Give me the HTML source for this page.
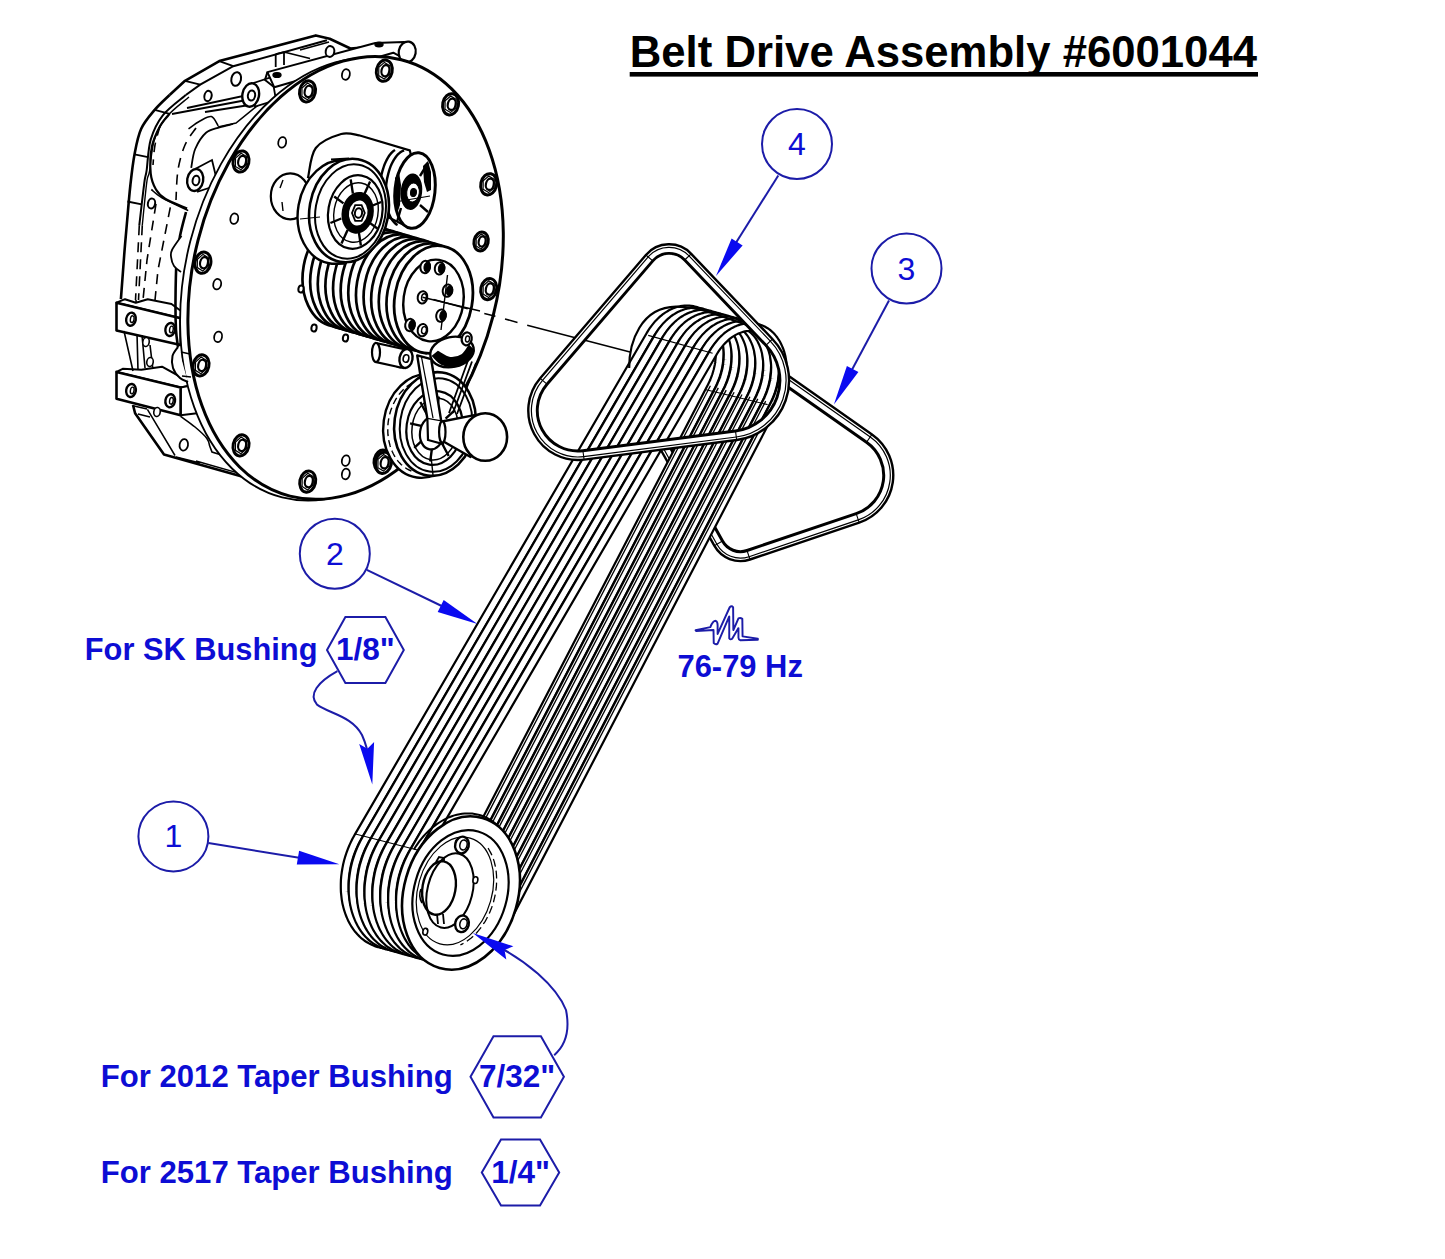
<!DOCTYPE html>
<html><head><meta charset="utf-8"><title>Belt Drive Assembly</title>
<style>html,body{margin:0;padding:0;background:#fff;} svg{display:block;} text{font-family:"Liberation Sans",sans-serif;}</style>
</head><body>
<svg width="1445" height="1259" viewBox="0 0 1445 1259" font-family="Liberation Sans, sans-serif">
<rect width="1445" height="1259" fill="#fff"/>
<path d="M415.0,50.0 L395.0,45.0 L350.4,48.5 L329.7,38.8 L315.8,35.4 L219.3,61.1 L185.0,80.8 L169.6,95.0" fill="none" stroke="#000" stroke-width="2.6" stroke-linejoin="round"/>
<path d="M169.6,95.0 C167.1,97.5 159.4,104.3 154.7,109.9 C150.0,115.5 144.6,121.4 141.2,128.8 C137.8,136.2 136.3,145.0 134.5,154.4 C132.7,163.8 131.6,174.1 130.4,185.0 C129.2,195.9 128.2,208.3 127.2,220.0 C126.2,231.7 125.2,241.8 124.2,255.0 C123.2,268.2 121.5,291.8 120.9,299.2" fill="none" stroke="#000" stroke-width="2.6"/>
<path d="M326.9,40.2 L233.3,66.2 L200.2,84.6 L185.8,95.0" fill="none" stroke="#000" stroke-width="2.0"/>
<path d="M185.8,95.0 C182.0,98.4 168.7,107.9 162.8,115.3 C157.0,122.7 153.4,130.4 150.7,139.6 C148.0,148.8 147.6,163.9 146.6,170.6 C145.6,177.3 145.5,174.4 144.7,180.0 C143.9,185.6 142.6,196.8 141.7,204.4 C140.8,212.0 139.7,221.8 139.3,225.3" fill="none" stroke="#000" stroke-width="2.0"/>
<path d="M189.0,97.0 C185.2,100.4 171.8,110.2 166.0,117.5 C160.2,124.8 156.7,132.1 154.0,141.0 C151.3,149.9 150.8,164.5 149.6,171.0 C148.4,177.5 148.0,174.3 147.1,180.0 C146.2,185.7 145.1,197.4 144.3,205.0 C143.5,212.6 142.6,221.9 142.3,225.3" fill="none" stroke="#000" stroke-width="1.4"/>
<path d="M219.3,61.1 L233.3,66.2" stroke="#000" stroke-width="1.8"/>
<path d="M185.0,80.8 L200.2,84.6" stroke="#000" stroke-width="1.8"/>
<path d="M154.7,109.9 L169.6,113.9" stroke="#000" stroke-width="1.8"/>
<path d="M134.5,154.4 L148.0,157.1" stroke="#000" stroke-width="1.8"/>
<path d="M127.4,201.5 L141.7,204.4" stroke="#000" stroke-width="1.8"/>
<path d="M133.0,405.0 L135.1,413.2 L164.0,454.5 L244.6,477.2 L285.0,492.0" fill="none" stroke="#000" stroke-width="2.6" stroke-linejoin="round"/>
<path d="M147.4,409.4 L175,455.5 M176,457 L200,463 M196,461 L243,474.4" fill="none" stroke="#000" stroke-width="1.5"/>
<path d="M134,406 L147,409 M138,414 L150,417" fill="none" stroke="#000" stroke-width="1.4"/>
<path d="M180.6,416.3 C183.0,418.1 190.6,423.3 195.0,427.0 C199.4,430.7 204.5,435.2 206.9,438.4 C209.3,441.6 209.2,444.7 209.7,446.0 L212,452 L225,456" fill="none" stroke="#000" stroke-width="1.6"/>
<path d="M136,300 L137,330 M147,302 L146,330 M150,345 L153,370 M137,333 L138,371" stroke="#000" stroke-width="1.6" fill="none"/>
<g fill="none" stroke="#000" stroke-width="1.6" stroke-dasharray="10 7">
<path d="M139.3,225.3 L135.5,300 M142.3,225.3 L138.5,300"/>
<path d="M156,203.8 L147,260 L143,300"/>
<path d="M170.3,207.4 L158,270 L155,300"/>
<path d="M196.0,128.0 C194.2,130.8 188.0,138.0 185.0,145.0 C182.0,152.0 179.5,160.8 178.0,170.0 C176.5,179.2 176.3,195.0 176.0,200.0"/>
<path d="M160.0,126.0 C159.2,129.2 156.2,138.5 155.0,145.0 C153.8,151.5 153.3,161.7 153.0,165.0"/>
</g>
<path d="M169.6,113.9 C168.0,115.9 163.0,120.6 160.1,126.0 C157.2,131.4 153.6,138.4 152.0,146.3 C150.4,154.2 150.0,166.1 150.7,173.3 C151.4,180.5 153.5,185.2 156.0,189.5 C158.5,193.8 160.3,195.8 165.5,199.0 C170.7,202.2 183.5,206.8 187.1,208.4" fill="none" stroke="#000" stroke-width="2.2"/>
<path d="M151.3,189.5 C153.1,190.9 155.8,194.4 162.0,197.9 C168.2,201.4 183.8,208.5 188.2,210.6" fill="none" stroke="#000" stroke-width="1.6"/>
<path d="M191.2,167.9 C191.9,164.8 192.7,154.8 195.2,149.0 C197.7,143.2 201.9,136.4 206.0,132.8 C210.1,129.2 215.0,128.9 219.5,127.4 C224.0,125.9 230.8,124.6 233.0,124.0" fill="none" stroke="#000" stroke-width="1.8"/>
<path d="M188.5,128.8 C190.4,127.5 196.2,123.0 200.0,121.0 C203.8,119.0 208.4,115.8 211.4,116.6 C214.4,117.4 217.1,124.4 218.2,126.0" fill="none" stroke="#000" stroke-width="1.6"/>
<path d="M172,114 L252,99 M187,108 L262,92 M205,112 L256,104" stroke="#000" stroke-width="1.8" fill="none"/>
<path d="M218,127 L236,123 L262,102" stroke="#000" stroke-width="1.6" fill="none"/>
<path d="M252,83.5 L272,77 L276,100 L255,106.5 Z" fill="#fff" stroke="#000" stroke-width="1.8"/>
<ellipse cx="250.7" cy="95.0" rx="8.3" ry="11.8" transform="rotate(10 250.7 95)" fill="#fff" stroke="#000" stroke-width="2.4"/>
<ellipse cx="251.5" cy="95.5" rx="3.6" ry="5.0" transform="rotate(10 251.5 95.5)" fill="#fff" stroke="#000" stroke-width="2.0"/>
<path d="M196,168.5 L212,160 L218,185 L198,191.5 Z" fill="#fff" stroke="#000" stroke-width="1.8"/>
<ellipse cx="195.2" cy="180.0" rx="8.0" ry="11.0" transform="rotate(10 195.2 180)" fill="#fff" stroke="#000" stroke-width="2.4"/>
<ellipse cx="196.0" cy="180.5" rx="3.4" ry="4.8" transform="rotate(10 196 180.5)" fill="#fff" stroke="#000" stroke-width="2.0"/>
<ellipse cx="236.2" cy="79.0" rx="4.8" ry="6.9" transform="rotate(12 236.2 79)" fill="#fff" stroke="#000" stroke-width="2.0"/>
<ellipse cx="208.0" cy="96.0" rx="3.6" ry="5.2" transform="rotate(12 208 96)" fill="#fff" stroke="#000" stroke-width="2.0"/>
<ellipse cx="151.5" cy="203.5" rx="3.6" ry="5.0" transform="rotate(12 151.5 203.5)" fill="#fff" stroke="#000" stroke-width="2.0"/>
<path d="M267.4,72.1 L375.3,43 L404,42 L410,62 L393.3,52.7 L274.3,87.3 Z" fill="#fff" stroke="#000" stroke-width="2.0" stroke-linejoin="round"/>
<path d="M267.4,72.1 L265,80 L274.3,87.3" stroke="#000" stroke-width="2.0" fill="none"/>
<path d="M300,50 L329,42" stroke="#000" stroke-width="1.6" fill="none"/>
<ellipse cx="407.2" cy="52.0" rx="8.5" ry="10.5" transform="rotate(10 407.2 52)" fill="#fff" stroke="#000" stroke-width="2.2"/>
<path d="M275.7,54 L275.7,67 M284,52 L284,65 M284,52 L310,58.5 M275.7,54 L284,52" stroke="#000" stroke-width="1.8" fill="none"/>
<ellipse cx="330.0" cy="51.5" rx="4.3" ry="5.4" transform="rotate(10 330 51.5)" fill="#fff" stroke="#000" stroke-width="2.0"/>
<ellipse cx="277.0" cy="75.0" rx="4.0" ry="2.4" fill="#000" stroke="#000" stroke-width="1.4"/>
<ellipse cx="379.0" cy="44.5" rx="4.0" ry="2.2" fill="#000" stroke="#000" stroke-width="1.4"/>
<path d="M116.5,302.7 L125.0,299.2 L135.8,302.8 L147.7,299.2 L171.5,304.0 L181.0,311.0 L180.6,318.2 Z" fill="#fff" stroke="#000" stroke-width="2.0" stroke-linejoin="round"/>
<path d="M180.6,318.2 L188.0,313.0 L188.0,340.0 L180.6,345.0 Z" fill="#fff" stroke="#000" stroke-width="2.0" stroke-linejoin="round"/>
<path d="M116.5,302.7 L180.6,318.2 L180.6,345.0 L116.5,330.6 Z" fill="#fff" stroke="#000" stroke-width="2.6" stroke-linejoin="round"/>
<path d="M116.5,371.9 L122.7,368.8 L141.3,369.8 L162.0,366.7 L182.6,378.0 L197.1,384.3 L180.6,387.4 Z" fill="#fff" stroke="#000" stroke-width="2.0" stroke-linejoin="round"/>
<path d="M180.6,387.4 L197.1,384.3 L197.1,413.2 L180.6,415.3 Z" fill="#fff" stroke="#000" stroke-width="2.0" stroke-linejoin="round"/>
<path d="M116.5,371.9 L180.6,387.4 L180.6,415.3 L116.5,398.7 Z" fill="#fff" stroke="#000" stroke-width="2.6" stroke-linejoin="round"/>
<ellipse cx="131.0" cy="319.2" rx="4.8" ry="6.6" transform="rotate(10 131 319.2)" fill="#fff" stroke="#000" stroke-width="2.4"/>
<ellipse cx="132.2" cy="319.2" rx="1.8" ry="3.4" transform="rotate(10 132.2 319.2)" fill="#fff" stroke="#000" stroke-width="1.4"/>
<ellipse cx="170.2" cy="329.5" rx="4.8" ry="6.6" transform="rotate(10 170.2 329.5)" fill="#fff" stroke="#000" stroke-width="2.4"/>
<ellipse cx="171.4" cy="329.5" rx="1.8" ry="3.4" transform="rotate(10 171.39999999999998 329.5)" fill="#fff" stroke="#000" stroke-width="1.4"/>
<ellipse cx="131.0" cy="390.5" rx="4.8" ry="6.6" transform="rotate(10 131 390.5)" fill="#fff" stroke="#000" stroke-width="2.4"/>
<ellipse cx="132.2" cy="390.5" rx="1.8" ry="3.4" transform="rotate(10 132.2 390.5)" fill="#fff" stroke="#000" stroke-width="1.4"/>
<ellipse cx="170.2" cy="400.8" rx="4.8" ry="6.6" transform="rotate(10 170.2 400.8)" fill="#fff" stroke="#000" stroke-width="2.4"/>
<ellipse cx="171.4" cy="400.8" rx="1.8" ry="3.4" transform="rotate(10 171.39999999999998 400.8)" fill="#fff" stroke="#000" stroke-width="1.4"/>
<path d="M124,331 L133,371 M142,335 L145,368" stroke="#000" stroke-width="1.6" fill="none"/>
<ellipse cx="146.0" cy="342.0" rx="3.2" ry="4.5" transform="rotate(10 146 342)" fill="#fff" stroke="#000" stroke-width="1.6"/>
<ellipse cx="150.0" cy="362.0" rx="3.2" ry="4.5" transform="rotate(10 150 362)" fill="#fff" stroke="#000" stroke-width="1.6"/>
<ellipse cx="157.0" cy="412.0" rx="3.2" ry="4.5" transform="rotate(10 157 412)" fill="#fff" stroke="#000" stroke-width="1.6"/>
<ellipse cx="183.8" cy="444.9" rx="4.2" ry="5.8" transform="rotate(10 183.8 444.9)" fill="#fff" stroke="#000" stroke-width="1.8"/>
<ellipse cx="337.8" cy="279.2" rx="152.3" ry="225.2" transform="rotate(14.3 337.8 279.2)" fill="#fff" stroke="#000" stroke-width="1.8"/>
<ellipse cx="345.6" cy="277.9" rx="152.3" ry="225.2" transform="rotate(14.3 345.6 277.9)" fill="#fff" stroke="#000" stroke-width="3.0"/>
<path d="M186.0,212.0 C185.0,216.0 181.6,227.7 180.0,236.0 C178.4,244.3 177.2,251.3 176.5,262.0 C175.8,272.7 175.6,288.7 175.5,300.0 C175.4,311.3 175.6,322.2 176.0,330.0 C176.4,337.8 177.7,344.2 178.0,347.0" fill="none" stroke="#000" stroke-width="2.6"/>
<path d="M178.0,347.0 C177.1,348.5 173.3,352.5 172.5,356.0 C171.7,359.5 171.8,364.3 173.0,368.0 C174.2,371.7 177.5,375.7 180.0,378.0 C182.5,380.3 186.7,381.3 188.0,382.0" fill="#fff" stroke="#000" stroke-width="2.0"/>
<path d="M181,352 L190,354 M182,376 L191,377" stroke="#000" stroke-width="1.4"/>
<path d="M181.5,236.0 C179.9,238.3 173.7,246.5 172.0,250.0 C170.3,253.5 170.8,254.5 171.1,257.2 C171.4,259.9 172.3,263.5 174.0,266.0 C175.7,268.5 179.8,271.0 181.0,272.0" fill="#fff" stroke="#000" stroke-width="1.8"/>
<ellipse cx="307.5" cy="91.4" rx="7.9" ry="10.7" transform="rotate(12 307.5 91.4)" fill="#fff" stroke="#000" stroke-width="3.0"/>
<path d="M313.0,94.8 L307.4,99.7 L301.9,96.3 L302.0,88.0 L307.6,83.1 L313.1,86.5 Z" fill="none" stroke="#000" stroke-width="1.2"/>
<ellipse cx="308.6" cy="91.4" rx="3.9" ry="5.7" transform="rotate(12 308.604 91.4)" fill="#fff" stroke="#000" stroke-width="2.2"/>
<ellipse cx="384.3" cy="70.7" rx="7.9" ry="10.7" transform="rotate(12 384.3 70.7)" fill="#fff" stroke="#000" stroke-width="3.0"/>
<path d="M389.8,74.1 L384.2,79.0 L378.7,75.6 L378.8,67.3 L384.4,62.4 L389.9,65.8 Z" fill="none" stroke="#000" stroke-width="1.2"/>
<ellipse cx="385.4" cy="70.7" rx="3.9" ry="5.7" transform="rotate(12 385.404 70.7)" fill="#fff" stroke="#000" stroke-width="2.2"/>
<ellipse cx="450.6" cy="104.3" rx="7.9" ry="10.7" transform="rotate(12 450.6 104.3)" fill="#fff" stroke="#000" stroke-width="3.0"/>
<path d="M456.1,107.7 L450.5,112.6 L445.0,109.2 L445.1,100.9 L450.7,96.0 L456.2,99.4 Z" fill="none" stroke="#000" stroke-width="1.2"/>
<ellipse cx="451.7" cy="104.3" rx="3.9" ry="5.7" transform="rotate(12 451.704 104.3)" fill="#fff" stroke="#000" stroke-width="2.2"/>
<ellipse cx="488.7" cy="184.3" rx="7.9" ry="10.7" transform="rotate(12 488.7 184.3)" fill="#fff" stroke="#000" stroke-width="3.0"/>
<path d="M494.2,187.7 L488.6,192.6 L483.1,189.2 L483.2,180.9 L488.8,176.0 L494.3,179.4 Z" fill="none" stroke="#000" stroke-width="1.2"/>
<ellipse cx="489.8" cy="184.3" rx="3.9" ry="5.7" transform="rotate(12 489.804 184.3)" fill="#fff" stroke="#000" stroke-width="2.2"/>
<ellipse cx="488.7" cy="289.1" rx="7.9" ry="10.7" transform="rotate(12 488.7 289.1)" fill="#fff" stroke="#000" stroke-width="3.0"/>
<path d="M494.2,292.5 L488.6,297.4 L483.1,294.0 L483.2,285.7 L488.8,280.8 L494.3,284.2 Z" fill="none" stroke="#000" stroke-width="1.2"/>
<ellipse cx="489.8" cy="289.1" rx="3.9" ry="5.7" transform="rotate(12 489.804 289.1)" fill="#fff" stroke="#000" stroke-width="2.2"/>
<ellipse cx="241.0" cy="161.5" rx="7.9" ry="10.7" transform="rotate(12 241 161.5)" fill="#fff" stroke="#000" stroke-width="3.0"/>
<path d="M246.5,164.9 L240.9,169.8 L235.4,166.4 L235.5,158.1 L241.1,153.2 L246.6,156.6 Z" fill="none" stroke="#000" stroke-width="1.2"/>
<ellipse cx="242.1" cy="161.5" rx="3.9" ry="5.7" transform="rotate(12 242.104 161.5)" fill="#fff" stroke="#000" stroke-width="2.2"/>
<ellipse cx="202.9" cy="262.7" rx="7.9" ry="10.7" transform="rotate(12 202.9 262.7)" fill="#fff" stroke="#000" stroke-width="3.0"/>
<path d="M208.4,266.1 L202.8,271.0 L197.3,267.6 L197.4,259.3 L203.0,254.4 L208.5,257.8 Z" fill="none" stroke="#000" stroke-width="1.2"/>
<ellipse cx="204.0" cy="262.7" rx="3.9" ry="5.7" transform="rotate(12 204.00400000000002 262.7)" fill="#fff" stroke="#000" stroke-width="2.2"/>
<ellipse cx="201.0" cy="365.4" rx="7.9" ry="10.7" transform="rotate(12 201 365.4)" fill="#fff" stroke="#000" stroke-width="3.0"/>
<path d="M206.5,368.8 L200.9,373.7 L195.4,370.3 L195.5,362.0 L201.1,357.1 L206.6,360.5 Z" fill="none" stroke="#000" stroke-width="1.2"/>
<ellipse cx="202.1" cy="365.4" rx="3.9" ry="5.7" transform="rotate(12 202.104 365.4)" fill="#fff" stroke="#000" stroke-width="2.2"/>
<ellipse cx="241.0" cy="445.4" rx="7.9" ry="10.7" transform="rotate(12 241 445.4)" fill="#fff" stroke="#000" stroke-width="3.0"/>
<path d="M246.5,448.8 L240.9,453.7 L235.4,450.3 L235.5,442.0 L241.1,437.1 L246.6,440.5 Z" fill="none" stroke="#000" stroke-width="1.2"/>
<ellipse cx="242.1" cy="445.4" rx="3.9" ry="5.7" transform="rotate(12 242.104 445.4)" fill="#fff" stroke="#000" stroke-width="2.2"/>
<ellipse cx="307.7" cy="481.6" rx="7.9" ry="10.7" transform="rotate(12 307.7 481.6)" fill="#fff" stroke="#000" stroke-width="3.0"/>
<path d="M313.2,485.0 L307.6,489.9 L302.1,486.5 L302.2,478.2 L307.8,473.3 L313.3,476.7 Z" fill="none" stroke="#000" stroke-width="1.2"/>
<ellipse cx="308.8" cy="481.6" rx="3.9" ry="5.7" transform="rotate(12 308.804 481.6)" fill="#fff" stroke="#000" stroke-width="2.2"/>
<ellipse cx="382.0" cy="460.6" rx="7.9" ry="10.7" transform="rotate(12 382 460.6)" fill="#fff" stroke="#000" stroke-width="3.0"/>
<path d="M387.5,464.0 L381.9,468.9 L376.4,465.5 L376.5,457.2 L382.1,452.3 L387.6,455.7 Z" fill="none" stroke="#000" stroke-width="1.2"/>
<ellipse cx="383.1" cy="460.6" rx="3.9" ry="5.7" transform="rotate(12 383.104 460.6)" fill="#fff" stroke="#000" stroke-width="2.2"/>
<ellipse cx="383.5" cy="462.8" rx="7.9" ry="10.7" transform="rotate(12 383.5 462.8)" fill="#fff" stroke="#000" stroke-width="3.0"/>
<path d="M389.0,466.2 L383.4,471.1 L377.9,467.7 L378.0,459.4 L383.6,454.5 L389.1,457.9 Z" fill="none" stroke="#000" stroke-width="1.2"/>
<ellipse cx="384.6" cy="462.8" rx="3.9" ry="5.7" transform="rotate(12 384.604 462.8)" fill="#fff" stroke="#000" stroke-width="2.2"/>
<ellipse cx="481.1" cy="241.5" rx="7.1" ry="9.5" transform="rotate(12 481.1 241.5)" fill="#fff" stroke="#000" stroke-width="3.0"/>
<path d="M486.0,244.5 L481.0,248.9 L476.1,245.9 L476.2,238.5 L481.2,234.1 L486.1,237.1 Z" fill="none" stroke="#000" stroke-width="1.2"/>
<ellipse cx="482.1" cy="241.5" rx="3.4" ry="5.1" transform="rotate(12 482.084 241.5)" fill="#fff" stroke="#000" stroke-width="2.2"/>
<ellipse cx="401.0" cy="357.7" rx="6.9" ry="9.3" transform="rotate(12 401 357.7)" fill="#fff" stroke="#000" stroke-width="3.0"/>
<path d="M405.7,360.7 L400.9,364.9 L396.2,362.0 L396.3,354.7 L401.1,350.5 L405.8,353.4 Z" fill="none" stroke="#000" stroke-width="1.2"/>
<ellipse cx="402.0" cy="357.7" rx="3.4" ry="5.0" transform="rotate(12 401.96 357.7)" fill="#fff" stroke="#000" stroke-width="2.2"/>
<ellipse cx="345.9" cy="74.5" rx="3.9" ry="5.3" transform="rotate(12 345.9 74.5)" fill="#fff" stroke="#000" stroke-width="1.8"/>
<ellipse cx="282.2" cy="142.4" rx="3.9" ry="5.3" transform="rotate(12 282.2 142.4)" fill="#fff" stroke="#000" stroke-width="1.8"/>
<ellipse cx="234.3" cy="218.7" rx="3.9" ry="5.3" transform="rotate(12 234.3 218.7)" fill="#fff" stroke="#000" stroke-width="1.8"/>
<ellipse cx="217.2" cy="284.2" rx="3.9" ry="5.3" transform="rotate(12 217.2 284.2)" fill="#fff" stroke="#000" stroke-width="1.8"/>
<ellipse cx="218.1" cy="336.8" rx="3.9" ry="5.3" transform="rotate(12 218.1 336.8)" fill="#fff" stroke="#000" stroke-width="1.8"/>
<ellipse cx="345.8" cy="460.6" rx="3.9" ry="5.3" transform="rotate(12 345.8 460.6)" fill="#fff" stroke="#000" stroke-width="1.8"/>
<ellipse cx="345.8" cy="474.0" rx="3.9" ry="5.3" transform="rotate(12 345.8 474)" fill="#fff" stroke="#000" stroke-width="1.8"/>
<ellipse cx="341.9" cy="272.6" rx="38.8" ry="54.3" transform="rotate(10 341.94 272.62)" fill="#fff" stroke="#000" stroke-width="2.7"/>
<ellipse cx="349.6" cy="274.9" rx="38.8" ry="54.3" transform="rotate(10 349.57 274.86)" fill="#fff" stroke="#000" stroke-width="2.7"/>
<ellipse cx="357.2" cy="277.1" rx="38.8" ry="54.3" transform="rotate(10 357.2 277.1)" fill="#fff" stroke="#000" stroke-width="2.7"/>
<ellipse cx="364.8" cy="279.3" rx="38.8" ry="54.3" transform="rotate(10 364.83 279.34)" fill="#fff" stroke="#000" stroke-width="2.7"/>
<ellipse cx="372.5" cy="281.6" rx="38.8" ry="54.3" transform="rotate(10 372.46 281.58)" fill="#fff" stroke="#000" stroke-width="2.7"/>
<ellipse cx="380.1" cy="283.8" rx="38.8" ry="54.3" transform="rotate(10 380.09000000000003 283.82)" fill="#fff" stroke="#000" stroke-width="2.7"/>
<ellipse cx="387.7" cy="286.1" rx="38.8" ry="54.3" transform="rotate(10 387.72 286.06)" fill="#fff" stroke="#000" stroke-width="2.7"/>
<ellipse cx="395.4" cy="288.3" rx="38.8" ry="54.3" transform="rotate(10 395.35 288.3)" fill="#fff" stroke="#000" stroke-width="2.7"/>
<ellipse cx="403.0" cy="290.5" rx="38.8" ry="54.3" transform="rotate(10 402.98 290.54)" fill="#fff" stroke="#000" stroke-width="2.7"/>
<ellipse cx="410.6" cy="292.8" rx="38.8" ry="54.3" transform="rotate(10 410.61 292.78)" fill="#fff" stroke="#000" stroke-width="2.7"/>
<ellipse cx="418.2" cy="295.0" rx="38.8" ry="54.3" transform="rotate(10 418.24 295.02)" fill="#fff" stroke="#000" stroke-width="2.7"/>
<ellipse cx="425.9" cy="297.3" rx="38.8" ry="54.3" transform="rotate(10 425.87 297.26)" fill="#fff" stroke="#000" stroke-width="2.7"/>
<path d="M333.0,326.5 L427.0,353.5" fill="none" stroke="#000" stroke-width="2.4"/>
<ellipse cx="433.5" cy="299.5" rx="38.8" ry="54.3" transform="rotate(10 433.5 299.5)" fill="#fff" stroke="#000" stroke-width="2.8"/>
<ellipse cx="433.5" cy="300.5" rx="30.0" ry="41.0" transform="rotate(8 433.5 300.5)" fill="#fff" stroke="#000" stroke-width="2.4"/>
<ellipse cx="439.6" cy="268.4" rx="4.8" ry="6.2" transform="rotate(10 439.6 268.4)" fill="#fff" stroke="#000" stroke-width="2.0"/>
<ellipse cx="441.6" cy="268.4" rx="3.2" ry="4.8" transform="rotate(10 441.6 268.4)" fill="#000" stroke="#000" stroke-width="1.0"/>
<ellipse cx="447.5" cy="290.7" rx="4.8" ry="6.2" transform="rotate(10 447.5 290.7)" fill="#fff" stroke="#000" stroke-width="2.0"/>
<ellipse cx="449.5" cy="290.7" rx="3.2" ry="4.8" transform="rotate(10 449.5 290.7)" fill="#000" stroke="#000" stroke-width="1.0"/>
<ellipse cx="422.5" cy="297.3" rx="4.8" ry="6.2" transform="rotate(10 422.5 297.3)" fill="#fff" stroke="#000" stroke-width="2.0"/>
<ellipse cx="424.0" cy="297.3" rx="2.4" ry="3.6" transform="rotate(10 424.0 297.3)" fill="#fff" stroke="#000" stroke-width="1.4"/>
<ellipse cx="441.0" cy="315.7" rx="4.8" ry="6.2" transform="rotate(10 441 315.7)" fill="#fff" stroke="#000" stroke-width="2.0"/>
<ellipse cx="443.0" cy="315.7" rx="3.2" ry="4.8" transform="rotate(10 443 315.7)" fill="#000" stroke="#000" stroke-width="1.0"/>
<ellipse cx="422.5" cy="330.2" rx="4.8" ry="6.2" transform="rotate(10 422.5 330.2)" fill="#fff" stroke="#000" stroke-width="2.0"/>
<ellipse cx="424.0" cy="330.2" rx="2.4" ry="3.6" transform="rotate(10 424.0 330.2)" fill="#fff" stroke="#000" stroke-width="1.4"/>
<ellipse cx="425.2" cy="267.0" rx="4.8" ry="6.2" transform="rotate(10 425.2 267)" fill="#fff" stroke="#000" stroke-width="2.0"/>
<ellipse cx="427.2" cy="267.0" rx="3.2" ry="4.8" transform="rotate(10 427.2 267)" fill="#000" stroke="#000" stroke-width="1.0"/>
<ellipse cx="410.0" cy="325.0" rx="4.8" ry="6.2" transform="rotate(10 410 325)" fill="#fff" stroke="#000" stroke-width="2.0"/>
<ellipse cx="412.0" cy="325.0" rx="3.2" ry="4.8" transform="rotate(10 412 325)" fill="#000" stroke="#000" stroke-width="1.0"/>
<path d="M422.5,297.3 L480,311 M447.5,275 L441,330" stroke="#000" stroke-width="1.4" fill="none"/>
<ellipse cx="301.0" cy="289.0" rx="2.6" ry="3.6" transform="rotate(10 301 289)" fill="#fff" stroke="#000" stroke-width="2.0"/>
<ellipse cx="314.0" cy="328.0" rx="2.6" ry="3.6" transform="rotate(10 314 328)" fill="#fff" stroke="#000" stroke-width="2.0"/>
<ellipse cx="345.5" cy="338.0" rx="2.6" ry="3.6" transform="rotate(10 345.5 338)" fill="#fff" stroke="#000" stroke-width="2.0"/>
<path d="M308.1,177.2 C309.4,172.3 310.3,155.2 315.8,148.0 C321.3,140.8 334.0,136.1 341.2,134.0 C348.4,131.9 356.0,135.1 359.0,135.3 L409.8,150.5 L420,190 L409.8,228 Z" fill="#fff" stroke="#000" stroke-width="2.2"/>
<g fill="none" stroke="#000" stroke-width="2.4">
<path d="M397.6,225.0 L396.4,224.4 L395.3,223.5 L394.2,222.5 L393.2,221.3 L392.2,220.0 L391.2,218.5 L390.4,216.9 L389.5,215.1 L388.8,213.2 L388.1,211.1 L387.5,209.0 L387.0,206.7 L386.6,204.4 L386.3,202.0 L386.0,199.5 L385.9,196.9 L385.8,194.3 L385.8,191.7 L385.9,189.1 L386.1,186.4 L386.3,183.8 L386.7,181.2 L387.1,178.6 L387.7,176.1 L388.3,173.6 L389.0,171.2 L389.7,168.8 L390.5,166.6 L391.4,164.5 L392.4,162.5 L393.4,160.6 L394.5,158.8 L395.6,157.2 L396.7,155.7 L397.9,154.4 L399.1,153.3 L400.4,152.3 L401.6,151.5 L402.9,150.9 L404.1,150.4"/>
<path d="M386.2,218.0 L385.4,216.8 L384.7,215.5 L384.0,214.1 L383.3,212.6 L382.8,211.0 L382.2,209.4 L381.7,207.7 L381.3,205.9 L380.9,204.0 L380.6,202.1 L380.3,200.1 L380.1,198.1 L379.9,196.0 L379.8,194.0 L379.8,191.8 L379.8,189.7 L379.9,187.6 L380.0,185.4 L380.2,183.3 L380.4,181.1 L380.7,179.0 L381.1,176.9 L381.5,174.8 L382.0,172.8 L382.5,170.8 L383.1,168.9 L383.7,167.0 L384.3,165.2 L385.0,163.4 L385.8,161.7 L386.6,160.1 L387.4,158.6 L388.3,157.1 L389.1,155.8 L390.1,154.5 L391.0,153.4 L392.0,152.4 L393.0,151.4 L394.0,150.6 L395.0,149.9"/>
</g>
<ellipse cx="415.0" cy="190.5" rx="20.0" ry="38.0" transform="rotate(6 415 190.5)" fill="#fff" stroke="#000" stroke-width="3.0"/>
<path d="M423,166 L428,161 L431,172 L431,190 L427,192 L424,182 Z" fill="#000"/>
<path d="M395,178 L399,172 L401,185 L400,205 L397,214 L395,208 Z" fill="#000"/>
<path d="M420,176 L428,163 M420,205 L428,212 M401,208 L397,222" stroke="#000" stroke-width="2.4"/>
<ellipse cx="411.4" cy="191.7" rx="10.0" ry="17.5" transform="rotate(6 411.4 191.7)" fill="#000" stroke="#000" stroke-width="1.5"/>
<ellipse cx="413.0" cy="192.5" rx="6.3" ry="9.5" transform="rotate(6 413 192.5)" fill="#fff" stroke="#000" stroke-width="1.0"/>
<ellipse cx="413.5" cy="192.5" rx="3.0" ry="4.0" transform="rotate(6 413.5 192.5)" fill="#000" stroke="#000" stroke-width="1.0"/>
<ellipse cx="290.3" cy="196.3" rx="19.5" ry="23.0" fill="#fff" stroke="#000" stroke-width="2.2"/>
<path d="M283,180 L280,188 M282,202 L283,211" stroke="#000" stroke-width="1.4" fill="none"/>
<ellipse cx="338.0" cy="212.0" rx="40.0" ry="52.0" transform="rotate(10 338 212)" fill="#fff" stroke="#000" stroke-width="2.4"/>
<path d="M331,159.5 L349,158.5 M336,264 L344,263.6" stroke="#000" stroke-width="2.2"/>
<ellipse cx="349.0" cy="210.5" rx="39.5" ry="52.0" transform="rotate(10 349 210.5)" fill="#fff" stroke="#000" stroke-width="2.6"/>
<ellipse cx="350.5" cy="211.5" rx="35.0" ry="47.5" transform="rotate(10 350.5 211.5)" fill="none" stroke="#000" stroke-width="2.0"/>
<ellipse cx="355.3" cy="212.0" rx="27.0" ry="37.0" transform="rotate(10 355.3 212)" fill="none" stroke="#000" stroke-width="2.2"/>
<ellipse cx="356.0" cy="212.5" rx="22.0" ry="30.0" transform="rotate(10 356 212.5)" fill="none" stroke="#000" stroke-width="1.4"/>
<path d="M368.1,221.6 L377.4,228.5 M358.7,231.4 L360.9,245.6 M347.6,230.1 L341.5,243.4 M341.3,218.5 L330.4,223.0 M343.5,203.4 L334.2,196.5 M352.9,193.6 L350.7,179.4 M364.0,194.9 L370.1,181.6 M370.3,206.5 L381.2,202.0" stroke="#000" stroke-width="2.4"/>
<ellipse cx="357.7" cy="212.8" rx="15.0" ry="20.0" transform="rotate(10 357.7 212.8)" fill="#000" stroke="#000" stroke-width="2.0"/>
<ellipse cx="358.2" cy="213.0" rx="10.0" ry="13.5" transform="rotate(10 358.2 213)" fill="#fff" stroke="#000" stroke-width="1.6"/>
<path d="M364.8,213.0 L361.6,220.8 L355.2,220.8 L352.0,213.0 L355.2,205.2 L361.6,205.2 Z" fill="none" stroke="#000" stroke-width="1.8"/>
<ellipse cx="358.5" cy="213.0" rx="3.6" ry="4.8" transform="rotate(10 358.5 213)" fill="#fff" stroke="#000" stroke-width="2.0"/>
<path d="M300,219 L320,217 M395,202 L430,196" stroke="#000" stroke-width="1.2"/>
<path d="M376,343 L403,349 L403,368 L376,362 Z" fill="#fff" stroke="#000" stroke-width="2.2"/>
<ellipse cx="376.0" cy="352.5" rx="4.0" ry="9.5" fill="#fff" stroke="#000" stroke-width="2.2"/>
<ellipse cx="406.0" cy="358.5" rx="6.5" ry="9.5" transform="rotate(10 406 358.5)" fill="#fff" stroke="#000" stroke-width="2.4"/>
<ellipse cx="406.0" cy="358.5" rx="2.8" ry="3.8" transform="rotate(10 406 358.5)" fill="#fff" stroke="#000" stroke-width="1.6"/>
<ellipse cx="452.0" cy="352.0" rx="22.0" ry="15.0" transform="rotate(-12 452 352)" fill="#fff" stroke="#000" stroke-width="2.4"/>
<path d="M433.0,356.0 C434.5,357.3 438.3,362.3 442.0,364.0 C445.7,365.7 450.8,366.7 455.0,366.0 C459.2,365.3 464.0,362.7 467.0,360.0 C470.0,357.3 472.0,351.7 473.0,350.0 L469,346 L469.0,346.0 C467.8,347.5 465.2,353.0 462.0,355.0 C458.8,357.0 454.0,358.5 450.0,358.0 C446.0,357.5 440.0,353.0 438.0,352.0 Z" fill="#000" stroke="#000" stroke-width="2"/>
<path d="M444,346 L452,343 M456,348 L462,344" stroke="#fff" stroke-width="1.6"/>
<ellipse cx="466.7" cy="338.9" rx="5.0" ry="6.5" transform="rotate(10 466.7 338.9)" fill="#fff" stroke="#000" stroke-width="2.2"/>
<ellipse cx="467.5" cy="339.0" rx="2.0" ry="3.0" transform="rotate(10 467.5 339)" fill="#fff" stroke="#000" stroke-width="1.4"/>
<ellipse cx="424.0" cy="426.0" rx="40.6" ry="52.0" transform="rotate(8 424 426)" fill="#fff" stroke="#000" stroke-width="2.4"/>
<path d="M411.4,471.0 L409.2,470.0 L407.0,468.9 L405.0,467.6 L403.0,466.1 L401.1,464.4 L399.3,462.6 L397.6,460.6 L396.1,458.4 L394.6,456.2 L393.3,453.7 L392.1,451.2 L391.0,448.6 L390.1,445.9 L389.4,443.0 L388.7,440.2 L388.3,437.2 L387.9,434.2 L387.8,431.2 L387.8,428.1 L387.9,425.1 L388.2,422.0 L388.7,419.0 L389.3,416.0 L390.0,413.0 L390.9,410.1 L392.0,407.2 L393.1,404.5 L394.5,401.8 L395.9,399.2 L397.4,396.8 L399.1,394.4 L400.9,392.2 L402.8,390.2 L404.7,388.3 L406.8,386.6 L408.9,385.0 L411.1,383.6 L413.3,382.4 L415.6,381.4 L418.0,380.6" fill="none" stroke="#000" stroke-width="1.4" stroke-dasharray="7 4"/>
<ellipse cx="435.0" cy="424.0" rx="40.6" ry="52.0" transform="rotate(8 435 424)" fill="#fff" stroke="#000" stroke-width="2.6"/>
<ellipse cx="436.0" cy="425.0" rx="36.0" ry="47.0" transform="rotate(8 436 425)" fill="none" stroke="#000" stroke-width="2.0"/>
<ellipse cx="434.5" cy="428.0" rx="28.0" ry="37.0" transform="rotate(8 434.5 428)" fill="none" stroke="#000" stroke-width="2.2"/>
<ellipse cx="435.0" cy="429.0" rx="23.0" ry="31.0" transform="rotate(8 435 429)" fill="none" stroke="#000" stroke-width="1.5"/>
<path d="M447.8,432.1 L458.9,434.7 M442.2,443.7 L448.7,456.0 M432.2,446.7 L430.2,461.5 M423.4,439.3 L414.2,447.9 M421.2,425.9 L410.1,423.3 M426.8,414.3 L420.3,402.0 M436.8,411.3 L438.8,396.5 M445.6,418.7 L454.8,410.1" stroke="#000" stroke-width="2.4"/>
<ellipse cx="432.0" cy="433.0" rx="12.0" ry="16.5" transform="rotate(8 432 433)" fill="#fff" stroke="#000" stroke-width="2.2"/>
<path d="M431,456 L433,475" stroke="#000" stroke-width="1.4"/>
<path d="M449,413 L468,360.5 M453,413 L472,361.5 M457,414 L476,363" stroke="#000" stroke-width="1.8" fill="none"/>
<path d="M417.2,355.4 L431.2,359.2 L441.3,421.5 L427.4,419 Z" fill="#fff" stroke="#000" stroke-width="2.4" stroke-linejoin="round"/>
<path d="M421.5,357 L433,418" stroke="#000" stroke-width="1.3"/>
<path d="M427.4,419 L428,440 L443,444 L441.3,421.5" fill="#fff" stroke="#000" stroke-width="2.2"/>
<path d="M442,421.5 L474.4,415.1 L470.6,457 L443.9,441.8 Z" fill="#fff" stroke="#000" stroke-width="2.4" stroke-linejoin="round"/>
<ellipse cx="442.3" cy="432.0" rx="3.2" ry="10.6" fill="#fff" stroke="#000" stroke-width="2.2"/>
<ellipse cx="485.2" cy="437.0" rx="21.9" ry="23.8" fill="#fff" stroke="#000" stroke-width="2.6"/>
<path d="M433.5,299.5 L467.7,308.7 M484.3,313.5 L495.4,316.3 M505,319 L517.5,322.5 M527.2,325.3 L631,352.3" stroke="#000" stroke-width="1.5" fill="none"/>
<path d="M773.1,365.0 L872.0,434.4 A50.0,50.0 0 0 1 859.2,522.7 L750.0,559.5 A30.0,30.0 0 0 1 714.3,545.7 L646.1,423.5 L654.4,418.9 L767.6,372.8 L866.5,442.2 A40.5,40.5 0 0 1 856.2,513.7 L747.0,550.5 A20.5,20.5 0 0 1 722.5,541.1 L654.4,418.9 Z" fill="none"/>
<path d="M773.1,365.0 L872.0,434.4 A50.0,50.0 0 0 1 859.2,522.7 L750.0,559.5 A30.0,30.0 0 0 1 714.3,545.7 L646.1,423.5" fill="none" stroke="#000" stroke-width="2.4"/>
<path d="M771.4,367.5 L870.3,436.9 A47.0,47.0 0 0 1 858.3,519.9 L749.1,556.7 A27.0,27.0 0 0 1 716.9,544.3 L648.7,422.0" fill="none" stroke="#000" stroke-width="1.2"/>
<path d="M767.6,372.8 L866.5,442.2 A40.5,40.5 0 0 1 856.2,513.7 L747.0,550.5 A20.5,20.5 0 0 1 722.5,541.1 L654.4,418.9" fill="none" stroke="#000" stroke-width="3.0"/>
<path d="M872.0,434.4 L866.5,442.2 M859.2,522.7 L856.2,513.7" stroke="#000" stroke-width="1.1"/>
<path d="M750.0,559.5 L747.0,550.5 M714.3,545.7 L722.5,541.1" stroke="#000" stroke-width="1.1"/>
<g fill="none" stroke-linejoin="round">
<path d="M650.1,334.9 L651.5,332.6 L653.0,330.4 L654.5,328.3 L656.1,326.3 L657.7,324.3 L659.5,322.5 L661.2,320.8 L663.1,319.1 L664.9,317.6 L666.8,316.2 L668.8,315.0 L670.7,313.8 L672.7,312.8 L674.8,311.9 L676.8,311.2 L678.8,310.5 L680.9,310.0 L682.9,309.7 L684.9,309.5 L686.9,309.4 L688.9,309.5 L690.9,309.7 L692.9,310.0 L694.8,310.5 L696.6,311.1 L698.5,311.8 L700.3,312.7 L702.0,313.7 L703.7,314.8 L705.3,316.1 L706.8,317.5 L708.3,319.0 L709.7,320.6 L711.0,322.3 L712.2,324.1 L713.4,326.0 L714.4,328.1 L715.4,330.2 L716.3,332.4 L717.1,334.6 L717.8,337.0 L718.4,339.4 L718.8,341.8 L719.2,344.3 L719.5,346.9 L719.7,349.5 L719.8,352.1 L719.7,354.8 L719.6,357.5 L719.3,360.2 L719.0,362.9 L718.6,365.6 L718.0,368.3 L717.4,370.9 L716.6,373.6 L715.8,376.2 L714.8,378.8 L713.8,381.3 L712.7,383.8 L711.5,386.2 L441.2,906.3 L439.3,909.6 L437.4,912.8 L435.4,915.9 L433.2,918.9 L431.0,921.8 L428.6,924.5 L426.2,927.1 L423.7,929.5 L421.1,931.8 L418.5,933.9 L415.8,935.8 L413.1,937.5 L410.3,939.1 L407.4,940.5 L404.6,941.7 L401.7,942.7 L398.9,943.4 L396.0,944.0 L393.1,944.4 L390.3,944.6 L387.4,944.6 L384.6,944.4 L381.9,944.0 L379.2,943.4 L376.5,942.6 L373.9,941.5 L371.4,940.3 L369.0,938.9 L366.6,937.4 L364.3,935.6 L362.2,933.6 L360.1,931.5 L358.1,929.2 L356.3,926.8 L354.6,924.2 L353.0,921.5 L351.5,918.6 L350.2,915.6 L349.0,912.5 L347.9,909.2 L347.0,905.9 L346.2,902.5 L345.6,899.0 L345.2,895.4 L344.8,891.7 L344.7,888.0 L344.7,884.3 L344.8,880.5 L345.1,876.7 L345.6,872.9 L346.2,869.1 L346.9,865.4 L347.8,861.6 L348.9,857.9 L350.1,854.2 L351.4,850.6 L352.9,847.0 L354.5,843.5 L356.2,840.1 L358.0,836.8 Z" stroke="#000" stroke-width="10.0"/>
<path d="M650.1,334.9 L651.5,332.6 L653.0,330.4 L654.5,328.3 L656.1,326.3 L657.7,324.3 L659.5,322.5 L661.2,320.8 L663.1,319.1 L664.9,317.6 L666.8,316.2 L668.8,315.0 L670.7,313.8 L672.7,312.8 L674.8,311.9 L676.8,311.2 L678.8,310.5 L680.9,310.0 L682.9,309.7 L684.9,309.5 L686.9,309.4 L688.9,309.5 L690.9,309.7 L692.9,310.0 L694.8,310.5 L696.6,311.1 L698.5,311.8 L700.3,312.7 L702.0,313.7 L703.7,314.8 L705.3,316.1 L706.8,317.5 L708.3,319.0 L709.7,320.6 L711.0,322.3 L712.2,324.1 L713.4,326.0 L714.4,328.1 L715.4,330.2 L716.3,332.4 L717.1,334.6 L717.8,337.0 L718.4,339.4 L718.8,341.8 L719.2,344.3 L719.5,346.9 L719.7,349.5 L719.8,352.1 L719.7,354.8 L719.6,357.5 L719.3,360.2 L719.0,362.9 L718.6,365.6 L718.0,368.3 L717.4,370.9 L716.6,373.6 L715.8,376.2 L714.8,378.8 L713.8,381.3 L712.7,383.8 L711.5,386.2 L441.2,906.3 L439.3,909.6 L437.4,912.8 L435.4,915.9 L433.2,918.9 L431.0,921.8 L428.6,924.5 L426.2,927.1 L423.7,929.5 L421.1,931.8 L418.5,933.9 L415.8,935.8 L413.1,937.5 L410.3,939.1 L407.4,940.5 L404.6,941.7 L401.7,942.7 L398.9,943.4 L396.0,944.0 L393.1,944.4 L390.3,944.6 L387.4,944.6 L384.6,944.4 L381.9,944.0 L379.2,943.4 L376.5,942.6 L373.9,941.5 L371.4,940.3 L369.0,938.9 L366.6,937.4 L364.3,935.6 L362.2,933.6 L360.1,931.5 L358.1,929.2 L356.3,926.8 L354.6,924.2 L353.0,921.5 L351.5,918.6 L350.2,915.6 L349.0,912.5 L347.9,909.2 L347.0,905.9 L346.2,902.5 L345.6,899.0 L345.2,895.4 L344.8,891.7 L344.7,888.0 L344.7,884.3 L344.8,880.5 L345.1,876.7 L345.6,872.9 L346.2,869.1 L346.9,865.4 L347.8,861.6 L348.9,857.9 L350.1,854.2 L351.4,850.6 L352.9,847.0 L354.5,843.5 L356.2,840.1 L358.0,836.8 Z" stroke="#fff" stroke-width="5.6"/>
<path d="M710.4,385.7 L440.1,905.7" stroke="#000" stroke-width="1.3"/>
<path d="M658.0,337.1 L659.4,334.8 L660.9,332.6 L662.4,330.5 L664.0,328.5 L665.6,326.5 L667.4,324.7 L669.1,323.0 L671.0,321.3 L672.8,319.8 L674.7,318.4 L676.7,317.2 L678.6,316.0 L680.6,315.0 L682.7,314.1 L684.7,313.4 L686.7,312.7 L688.8,312.2 L690.8,311.9 L692.8,311.7 L694.8,311.6 L696.8,311.7 L698.8,311.9 L700.8,312.2 L702.7,312.7 L704.5,313.3 L706.4,314.0 L708.2,314.9 L709.9,315.9 L711.6,317.0 L713.2,318.3 L714.7,319.7 L716.2,321.2 L717.6,322.8 L718.9,324.5 L720.1,326.3 L721.3,328.2 L722.3,330.3 L723.3,332.4 L724.2,334.6 L725.0,336.8 L725.7,339.2 L726.3,341.6 L726.7,344.0 L727.1,346.5 L727.4,349.1 L727.6,351.7 L727.7,354.3 L727.6,357.0 L727.5,359.7 L727.2,362.4 L726.9,365.1 L726.5,367.8 L725.9,370.5 L725.3,373.1 L724.5,375.8 L723.7,378.4 L722.7,381.0 L721.7,383.5 L720.6,386.0 L719.4,388.4 L449.1,908.5 L447.2,911.8 L445.3,915.0 L443.3,918.1 L441.1,921.1 L438.9,924.0 L436.5,926.7 L434.1,929.3 L431.6,931.7 L429.0,934.0 L426.4,936.1 L423.7,938.0 L421.0,939.7 L418.2,941.3 L415.3,942.7 L412.5,943.9 L409.6,944.9 L406.8,945.6 L403.9,946.2 L401.0,946.6 L398.2,946.8 L395.3,946.8 L392.5,946.6 L389.8,946.2 L387.1,945.6 L384.4,944.8 L381.8,943.7 L379.3,942.5 L376.9,941.1 L374.5,939.6 L372.2,937.8 L370.1,935.8 L368.0,933.7 L366.0,931.4 L364.2,929.0 L362.5,926.4 L360.9,923.7 L359.4,920.8 L358.1,917.8 L356.9,914.7 L355.8,911.4 L354.9,908.1 L354.1,904.7 L353.5,901.2 L353.1,897.6 L352.7,893.9 L352.6,890.2 L352.6,886.5 L352.7,882.7 L353.0,878.9 L353.5,875.1 L354.1,871.3 L354.8,867.6 L355.7,863.8 L356.8,860.1 L358.0,856.4 L359.3,852.8 L360.8,849.2 L362.4,845.7 L364.1,842.3 L365.9,839.0 Z" stroke="#000" stroke-width="10.0"/>
<path d="M658.0,337.1 L659.4,334.8 L660.9,332.6 L662.4,330.5 L664.0,328.5 L665.6,326.5 L667.4,324.7 L669.1,323.0 L671.0,321.3 L672.8,319.8 L674.7,318.4 L676.7,317.2 L678.6,316.0 L680.6,315.0 L682.7,314.1 L684.7,313.4 L686.7,312.7 L688.8,312.2 L690.8,311.9 L692.8,311.7 L694.8,311.6 L696.8,311.7 L698.8,311.9 L700.8,312.2 L702.7,312.7 L704.5,313.3 L706.4,314.0 L708.2,314.9 L709.9,315.9 L711.6,317.0 L713.2,318.3 L714.7,319.7 L716.2,321.2 L717.6,322.8 L718.9,324.5 L720.1,326.3 L721.3,328.2 L722.3,330.3 L723.3,332.4 L724.2,334.6 L725.0,336.8 L725.7,339.2 L726.3,341.6 L726.7,344.0 L727.1,346.5 L727.4,349.1 L727.6,351.7 L727.7,354.3 L727.6,357.0 L727.5,359.7 L727.2,362.4 L726.9,365.1 L726.5,367.8 L725.9,370.5 L725.3,373.1 L724.5,375.8 L723.7,378.4 L722.7,381.0 L721.7,383.5 L720.6,386.0 L719.4,388.4 L449.1,908.5 L447.2,911.8 L445.3,915.0 L443.3,918.1 L441.1,921.1 L438.9,924.0 L436.5,926.7 L434.1,929.3 L431.6,931.7 L429.0,934.0 L426.4,936.1 L423.7,938.0 L421.0,939.7 L418.2,941.3 L415.3,942.7 L412.5,943.9 L409.6,944.9 L406.8,945.6 L403.9,946.2 L401.0,946.6 L398.2,946.8 L395.3,946.8 L392.5,946.6 L389.8,946.2 L387.1,945.6 L384.4,944.8 L381.8,943.7 L379.3,942.5 L376.9,941.1 L374.5,939.6 L372.2,937.8 L370.1,935.8 L368.0,933.7 L366.0,931.4 L364.2,929.0 L362.5,926.4 L360.9,923.7 L359.4,920.8 L358.1,917.8 L356.9,914.7 L355.8,911.4 L354.9,908.1 L354.1,904.7 L353.5,901.2 L353.1,897.6 L352.7,893.9 L352.6,890.2 L352.6,886.5 L352.7,882.7 L353.0,878.9 L353.5,875.1 L354.1,871.3 L354.8,867.6 L355.7,863.8 L356.8,860.1 L358.0,856.4 L359.3,852.8 L360.8,849.2 L362.4,845.7 L364.1,842.3 L365.9,839.0 Z" stroke="#fff" stroke-width="5.6"/>
<path d="M718.3,387.9 L448.0,907.9" stroke="#000" stroke-width="1.3"/>
<path d="M665.9,339.3 L667.3,337.0 L668.8,334.8 L670.3,332.7 L671.9,330.7 L673.5,328.7 L675.3,326.9 L677.0,325.2 L678.9,323.5 L680.7,322.0 L682.6,320.6 L684.6,319.4 L686.5,318.2 L688.5,317.2 L690.6,316.3 L692.6,315.6 L694.6,314.9 L696.7,314.4 L698.7,314.1 L700.7,313.9 L702.7,313.8 L704.7,313.9 L706.7,314.1 L708.7,314.4 L710.6,314.9 L712.4,315.5 L714.3,316.2 L716.1,317.1 L717.8,318.1 L719.5,319.2 L721.1,320.5 L722.6,321.9 L724.1,323.4 L725.5,325.0 L726.8,326.7 L728.0,328.5 L729.2,330.4 L730.2,332.5 L731.2,334.6 L732.1,336.8 L732.9,339.0 L733.6,341.4 L734.2,343.8 L734.6,346.2 L735.0,348.7 L735.3,351.3 L735.5,353.9 L735.6,356.5 L735.5,359.2 L735.4,361.9 L735.1,364.6 L734.8,367.3 L734.4,370.0 L733.8,372.7 L733.2,375.3 L732.4,378.0 L731.6,380.6 L730.6,383.2 L729.6,385.7 L728.5,388.2 L727.3,390.6 L457.0,910.7 L455.1,914.0 L453.2,917.2 L451.2,920.3 L449.0,923.3 L446.8,926.2 L444.4,928.9 L442.0,931.5 L439.5,933.9 L436.9,936.2 L434.3,938.3 L431.6,940.2 L428.9,941.9 L426.1,943.5 L423.2,944.9 L420.4,946.1 L417.5,947.1 L414.7,947.8 L411.8,948.4 L408.9,948.8 L406.1,949.0 L403.2,949.0 L400.4,948.8 L397.7,948.4 L395.0,947.8 L392.3,947.0 L389.7,945.9 L387.2,944.7 L384.8,943.3 L382.4,941.8 L380.1,940.0 L378.0,938.0 L375.9,935.9 L373.9,933.6 L372.1,931.2 L370.4,928.6 L368.8,925.9 L367.3,923.0 L366.0,920.0 L364.8,916.9 L363.7,913.6 L362.8,910.3 L362.0,906.9 L361.4,903.4 L361.0,899.8 L360.6,896.1 L360.5,892.4 L360.5,888.7 L360.6,884.9 L360.9,881.1 L361.4,877.3 L362.0,873.5 L362.7,869.8 L363.6,866.0 L364.7,862.3 L365.9,858.6 L367.2,855.0 L368.7,851.4 L370.3,847.9 L372.0,844.5 L373.8,841.2 Z" stroke="#000" stroke-width="10.0"/>
<path d="M665.9,339.3 L667.3,337.0 L668.8,334.8 L670.3,332.7 L671.9,330.7 L673.5,328.7 L675.3,326.9 L677.0,325.2 L678.9,323.5 L680.7,322.0 L682.6,320.6 L684.6,319.4 L686.5,318.2 L688.5,317.2 L690.6,316.3 L692.6,315.6 L694.6,314.9 L696.7,314.4 L698.7,314.1 L700.7,313.9 L702.7,313.8 L704.7,313.9 L706.7,314.1 L708.7,314.4 L710.6,314.9 L712.4,315.5 L714.3,316.2 L716.1,317.1 L717.8,318.1 L719.5,319.2 L721.1,320.5 L722.6,321.9 L724.1,323.4 L725.5,325.0 L726.8,326.7 L728.0,328.5 L729.2,330.4 L730.2,332.5 L731.2,334.6 L732.1,336.8 L732.9,339.0 L733.6,341.4 L734.2,343.8 L734.6,346.2 L735.0,348.7 L735.3,351.3 L735.5,353.9 L735.6,356.5 L735.5,359.2 L735.4,361.9 L735.1,364.6 L734.8,367.3 L734.4,370.0 L733.8,372.7 L733.2,375.3 L732.4,378.0 L731.6,380.6 L730.6,383.2 L729.6,385.7 L728.5,388.2 L727.3,390.6 L457.0,910.7 L455.1,914.0 L453.2,917.2 L451.2,920.3 L449.0,923.3 L446.8,926.2 L444.4,928.9 L442.0,931.5 L439.5,933.9 L436.9,936.2 L434.3,938.3 L431.6,940.2 L428.9,941.9 L426.1,943.5 L423.2,944.9 L420.4,946.1 L417.5,947.1 L414.7,947.8 L411.8,948.4 L408.9,948.8 L406.1,949.0 L403.2,949.0 L400.4,948.8 L397.7,948.4 L395.0,947.8 L392.3,947.0 L389.7,945.9 L387.2,944.7 L384.8,943.3 L382.4,941.8 L380.1,940.0 L378.0,938.0 L375.9,935.9 L373.9,933.6 L372.1,931.2 L370.4,928.6 L368.8,925.9 L367.3,923.0 L366.0,920.0 L364.8,916.9 L363.7,913.6 L362.8,910.3 L362.0,906.9 L361.4,903.4 L361.0,899.8 L360.6,896.1 L360.5,892.4 L360.5,888.7 L360.6,884.9 L360.9,881.1 L361.4,877.3 L362.0,873.5 L362.7,869.8 L363.6,866.0 L364.7,862.3 L365.9,858.6 L367.2,855.0 L368.7,851.4 L370.3,847.9 L372.0,844.5 L373.8,841.2 Z" stroke="#fff" stroke-width="5.6"/>
<path d="M726.2,390.1 L455.9,910.1" stroke="#000" stroke-width="1.3"/>
<path d="M673.8,341.5 L675.2,339.2 L676.7,337.0 L678.2,334.9 L679.8,332.9 L681.4,330.9 L683.2,329.1 L684.9,327.4 L686.8,325.7 L688.6,324.2 L690.5,322.8 L692.5,321.6 L694.4,320.4 L696.4,319.4 L698.5,318.5 L700.5,317.8 L702.5,317.1 L704.6,316.6 L706.6,316.3 L708.6,316.1 L710.6,316.0 L712.6,316.1 L714.6,316.3 L716.6,316.6 L718.5,317.1 L720.3,317.7 L722.2,318.4 L724.0,319.3 L725.7,320.3 L727.4,321.4 L729.0,322.7 L730.5,324.1 L732.0,325.6 L733.4,327.2 L734.7,328.9 L735.9,330.7 L737.1,332.6 L738.1,334.7 L739.1,336.8 L740.0,339.0 L740.8,341.2 L741.5,343.6 L742.1,346.0 L742.5,348.4 L742.9,350.9 L743.2,353.5 L743.4,356.1 L743.5,358.7 L743.4,361.4 L743.3,364.1 L743.0,366.8 L742.7,369.5 L742.3,372.2 L741.7,374.9 L741.1,377.5 L740.3,380.2 L739.5,382.8 L738.5,385.4 L737.5,387.9 L736.4,390.4 L735.2,392.8 L464.9,912.9 L463.0,916.2 L461.1,919.4 L459.1,922.5 L456.9,925.5 L454.7,928.4 L452.3,931.1 L449.9,933.7 L447.4,936.1 L444.8,938.4 L442.2,940.5 L439.5,942.4 L436.8,944.1 L434.0,945.7 L431.1,947.1 L428.3,948.3 L425.4,949.3 L422.6,950.0 L419.7,950.6 L416.8,951.0 L414.0,951.2 L411.1,951.2 L408.3,951.0 L405.6,950.6 L402.9,950.0 L400.2,949.2 L397.6,948.1 L395.1,946.9 L392.7,945.5 L390.3,944.0 L388.0,942.2 L385.9,940.2 L383.8,938.1 L381.8,935.8 L380.0,933.4 L378.3,930.8 L376.7,928.1 L375.2,925.2 L373.9,922.2 L372.7,919.1 L371.6,915.8 L370.7,912.5 L369.9,909.1 L369.3,905.6 L368.9,902.0 L368.5,898.3 L368.4,894.6 L368.4,890.9 L368.5,887.1 L368.8,883.3 L369.3,879.5 L369.9,875.7 L370.6,872.0 L371.5,868.2 L372.6,864.5 L373.8,860.8 L375.1,857.2 L376.6,853.6 L378.2,850.1 L379.9,846.7 L381.7,843.4 Z" stroke="#000" stroke-width="10.0"/>
<path d="M673.8,341.5 L675.2,339.2 L676.7,337.0 L678.2,334.9 L679.8,332.9 L681.4,330.9 L683.2,329.1 L684.9,327.4 L686.8,325.7 L688.6,324.2 L690.5,322.8 L692.5,321.6 L694.4,320.4 L696.4,319.4 L698.5,318.5 L700.5,317.8 L702.5,317.1 L704.6,316.6 L706.6,316.3 L708.6,316.1 L710.6,316.0 L712.6,316.1 L714.6,316.3 L716.6,316.6 L718.5,317.1 L720.3,317.7 L722.2,318.4 L724.0,319.3 L725.7,320.3 L727.4,321.4 L729.0,322.7 L730.5,324.1 L732.0,325.6 L733.4,327.2 L734.7,328.9 L735.9,330.7 L737.1,332.6 L738.1,334.7 L739.1,336.8 L740.0,339.0 L740.8,341.2 L741.5,343.6 L742.1,346.0 L742.5,348.4 L742.9,350.9 L743.2,353.5 L743.4,356.1 L743.5,358.7 L743.4,361.4 L743.3,364.1 L743.0,366.8 L742.7,369.5 L742.3,372.2 L741.7,374.9 L741.1,377.5 L740.3,380.2 L739.5,382.8 L738.5,385.4 L737.5,387.9 L736.4,390.4 L735.2,392.8 L464.9,912.9 L463.0,916.2 L461.1,919.4 L459.1,922.5 L456.9,925.5 L454.7,928.4 L452.3,931.1 L449.9,933.7 L447.4,936.1 L444.8,938.4 L442.2,940.5 L439.5,942.4 L436.8,944.1 L434.0,945.7 L431.1,947.1 L428.3,948.3 L425.4,949.3 L422.6,950.0 L419.7,950.6 L416.8,951.0 L414.0,951.2 L411.1,951.2 L408.3,951.0 L405.6,950.6 L402.9,950.0 L400.2,949.2 L397.6,948.1 L395.1,946.9 L392.7,945.5 L390.3,944.0 L388.0,942.2 L385.9,940.2 L383.8,938.1 L381.8,935.8 L380.0,933.4 L378.3,930.8 L376.7,928.1 L375.2,925.2 L373.9,922.2 L372.7,919.1 L371.6,915.8 L370.7,912.5 L369.9,909.1 L369.3,905.6 L368.9,902.0 L368.5,898.3 L368.4,894.6 L368.4,890.9 L368.5,887.1 L368.8,883.3 L369.3,879.5 L369.9,875.7 L370.6,872.0 L371.5,868.2 L372.6,864.5 L373.8,860.8 L375.1,857.2 L376.6,853.6 L378.2,850.1 L379.9,846.7 L381.7,843.4 Z" stroke="#fff" stroke-width="5.6"/>
<path d="M734.1,392.3 L463.8,912.3" stroke="#000" stroke-width="1.3"/>
<path d="M681.7,343.7 L683.1,341.4 L684.6,339.2 L686.1,337.1 L687.7,335.1 L689.3,333.1 L691.1,331.3 L692.8,329.6 L694.7,327.9 L696.5,326.4 L698.4,325.0 L700.4,323.8 L702.3,322.6 L704.3,321.6 L706.4,320.7 L708.4,320.0 L710.4,319.3 L712.5,318.8 L714.5,318.5 L716.5,318.3 L718.5,318.2 L720.5,318.3 L722.5,318.5 L724.5,318.8 L726.4,319.3 L728.2,319.9 L730.1,320.6 L731.9,321.5 L733.6,322.5 L735.3,323.6 L736.9,324.9 L738.4,326.3 L739.9,327.8 L741.3,329.4 L742.6,331.1 L743.8,332.9 L745.0,334.8 L746.0,336.9 L747.0,339.0 L747.9,341.2 L748.7,343.4 L749.4,345.8 L750.0,348.2 L750.4,350.6 L750.8,353.1 L751.1,355.7 L751.3,358.3 L751.4,360.9 L751.3,363.6 L751.2,366.3 L750.9,369.0 L750.6,371.7 L750.2,374.4 L749.6,377.1 L749.0,379.7 L748.2,382.4 L747.4,385.0 L746.4,387.6 L745.4,390.1 L744.3,392.6 L743.1,395.0 L472.8,915.1 L470.9,918.4 L469.0,921.6 L467.0,924.7 L464.8,927.7 L462.6,930.6 L460.2,933.3 L457.8,935.9 L455.3,938.3 L452.7,940.6 L450.1,942.7 L447.4,944.6 L444.7,946.3 L441.9,947.9 L439.0,949.3 L436.2,950.5 L433.3,951.5 L430.5,952.2 L427.6,952.8 L424.7,953.2 L421.9,953.4 L419.0,953.4 L416.2,953.2 L413.5,952.8 L410.8,952.2 L408.1,951.4 L405.5,950.3 L403.0,949.1 L400.6,947.7 L398.2,946.2 L395.9,944.4 L393.8,942.4 L391.7,940.3 L389.7,938.0 L387.9,935.6 L386.2,933.0 L384.6,930.3 L383.1,927.4 L381.8,924.4 L380.6,921.3 L379.5,918.0 L378.6,914.7 L377.8,911.3 L377.2,907.8 L376.8,904.2 L376.4,900.5 L376.3,896.8 L376.3,893.1 L376.4,889.3 L376.7,885.5 L377.2,881.7 L377.8,877.9 L378.5,874.2 L379.4,870.4 L380.5,866.7 L381.7,863.0 L383.0,859.4 L384.5,855.8 L386.1,852.3 L387.8,848.9 L389.6,845.6 Z" stroke="#000" stroke-width="10.0"/>
<path d="M681.7,343.7 L683.1,341.4 L684.6,339.2 L686.1,337.1 L687.7,335.1 L689.3,333.1 L691.1,331.3 L692.8,329.6 L694.7,327.9 L696.5,326.4 L698.4,325.0 L700.4,323.8 L702.3,322.6 L704.3,321.6 L706.4,320.7 L708.4,320.0 L710.4,319.3 L712.5,318.8 L714.5,318.5 L716.5,318.3 L718.5,318.2 L720.5,318.3 L722.5,318.5 L724.5,318.8 L726.4,319.3 L728.2,319.9 L730.1,320.6 L731.9,321.5 L733.6,322.5 L735.3,323.6 L736.9,324.9 L738.4,326.3 L739.9,327.8 L741.3,329.4 L742.6,331.1 L743.8,332.9 L745.0,334.8 L746.0,336.9 L747.0,339.0 L747.9,341.2 L748.7,343.4 L749.4,345.8 L750.0,348.2 L750.4,350.6 L750.8,353.1 L751.1,355.7 L751.3,358.3 L751.4,360.9 L751.3,363.6 L751.2,366.3 L750.9,369.0 L750.6,371.7 L750.2,374.4 L749.6,377.1 L749.0,379.7 L748.2,382.4 L747.4,385.0 L746.4,387.6 L745.4,390.1 L744.3,392.6 L743.1,395.0 L472.8,915.1 L470.9,918.4 L469.0,921.6 L467.0,924.7 L464.8,927.7 L462.6,930.6 L460.2,933.3 L457.8,935.9 L455.3,938.3 L452.7,940.6 L450.1,942.7 L447.4,944.6 L444.7,946.3 L441.9,947.9 L439.0,949.3 L436.2,950.5 L433.3,951.5 L430.5,952.2 L427.6,952.8 L424.7,953.2 L421.9,953.4 L419.0,953.4 L416.2,953.2 L413.5,952.8 L410.8,952.2 L408.1,951.4 L405.5,950.3 L403.0,949.1 L400.6,947.7 L398.2,946.2 L395.9,944.4 L393.8,942.4 L391.7,940.3 L389.7,938.0 L387.9,935.6 L386.2,933.0 L384.6,930.3 L383.1,927.4 L381.8,924.4 L380.6,921.3 L379.5,918.0 L378.6,914.7 L377.8,911.3 L377.2,907.8 L376.8,904.2 L376.4,900.5 L376.3,896.8 L376.3,893.1 L376.4,889.3 L376.7,885.5 L377.2,881.7 L377.8,877.9 L378.5,874.2 L379.4,870.4 L380.5,866.7 L381.7,863.0 L383.0,859.4 L384.5,855.8 L386.1,852.3 L387.8,848.9 L389.6,845.6 Z" stroke="#fff" stroke-width="5.6"/>
<path d="M742.0,394.5 L471.7,914.5" stroke="#000" stroke-width="1.3"/>
<path d="M689.6,345.9 L691.0,343.6 L692.5,341.4 L694.0,339.3 L695.6,337.3 L697.2,335.3 L699.0,333.5 L700.7,331.8 L702.6,330.1 L704.4,328.6 L706.3,327.2 L708.3,326.0 L710.2,324.8 L712.2,323.8 L714.3,322.9 L716.3,322.2 L718.3,321.5 L720.4,321.0 L722.4,320.7 L724.4,320.5 L726.4,320.4 L728.4,320.5 L730.4,320.7 L732.4,321.0 L734.3,321.5 L736.1,322.1 L738.0,322.8 L739.8,323.7 L741.5,324.7 L743.2,325.8 L744.8,327.1 L746.3,328.5 L747.8,330.0 L749.2,331.6 L750.5,333.3 L751.7,335.1 L752.9,337.0 L753.9,339.1 L754.9,341.2 L755.8,343.4 L756.6,345.6 L757.3,348.0 L757.9,350.4 L758.3,352.8 L758.7,355.3 L759.0,357.9 L759.2,360.5 L759.3,363.1 L759.2,365.8 L759.1,368.5 L758.8,371.2 L758.5,373.9 L758.1,376.6 L757.5,379.3 L756.9,381.9 L756.1,384.6 L755.3,387.2 L754.3,389.8 L753.3,392.3 L752.2,394.8 L751.0,397.2 L480.7,917.3 L478.8,920.6 L476.9,923.8 L474.9,926.9 L472.7,929.9 L470.5,932.8 L468.1,935.5 L465.7,938.1 L463.2,940.5 L460.6,942.8 L458.0,944.9 L455.3,946.8 L452.6,948.5 L449.8,950.1 L446.9,951.5 L444.1,952.7 L441.2,953.7 L438.4,954.4 L435.5,955.0 L432.6,955.4 L429.8,955.6 L426.9,955.6 L424.1,955.4 L421.4,955.0 L418.7,954.4 L416.0,953.6 L413.4,952.5 L410.9,951.3 L408.5,949.9 L406.1,948.4 L403.8,946.6 L401.7,944.6 L399.6,942.5 L397.6,940.2 L395.8,937.8 L394.1,935.2 L392.5,932.5 L391.0,929.6 L389.7,926.6 L388.5,923.5 L387.4,920.2 L386.5,916.9 L385.7,913.5 L385.1,910.0 L384.7,906.4 L384.3,902.7 L384.2,899.0 L384.2,895.3 L384.3,891.5 L384.6,887.7 L385.1,883.9 L385.7,880.1 L386.4,876.4 L387.3,872.6 L388.4,868.9 L389.6,865.2 L390.9,861.6 L392.4,858.0 L394.0,854.5 L395.7,851.1 L397.5,847.8 Z" stroke="#000" stroke-width="10.0"/>
<path d="M689.6,345.9 L691.0,343.6 L692.5,341.4 L694.0,339.3 L695.6,337.3 L697.2,335.3 L699.0,333.5 L700.7,331.8 L702.6,330.1 L704.4,328.6 L706.3,327.2 L708.3,326.0 L710.2,324.8 L712.2,323.8 L714.3,322.9 L716.3,322.2 L718.3,321.5 L720.4,321.0 L722.4,320.7 L724.4,320.5 L726.4,320.4 L728.4,320.5 L730.4,320.7 L732.4,321.0 L734.3,321.5 L736.1,322.1 L738.0,322.8 L739.8,323.7 L741.5,324.7 L743.2,325.8 L744.8,327.1 L746.3,328.5 L747.8,330.0 L749.2,331.6 L750.5,333.3 L751.7,335.1 L752.9,337.0 L753.9,339.1 L754.9,341.2 L755.8,343.4 L756.6,345.6 L757.3,348.0 L757.9,350.4 L758.3,352.8 L758.7,355.3 L759.0,357.9 L759.2,360.5 L759.3,363.1 L759.2,365.8 L759.1,368.5 L758.8,371.2 L758.5,373.9 L758.1,376.6 L757.5,379.3 L756.9,381.9 L756.1,384.6 L755.3,387.2 L754.3,389.8 L753.3,392.3 L752.2,394.8 L751.0,397.2 L480.7,917.3 L478.8,920.6 L476.9,923.8 L474.9,926.9 L472.7,929.9 L470.5,932.8 L468.1,935.5 L465.7,938.1 L463.2,940.5 L460.6,942.8 L458.0,944.9 L455.3,946.8 L452.6,948.5 L449.8,950.1 L446.9,951.5 L444.1,952.7 L441.2,953.7 L438.4,954.4 L435.5,955.0 L432.6,955.4 L429.8,955.6 L426.9,955.6 L424.1,955.4 L421.4,955.0 L418.7,954.4 L416.0,953.6 L413.4,952.5 L410.9,951.3 L408.5,949.9 L406.1,948.4 L403.8,946.6 L401.7,944.6 L399.6,942.5 L397.6,940.2 L395.8,937.8 L394.1,935.2 L392.5,932.5 L391.0,929.6 L389.7,926.6 L388.5,923.5 L387.4,920.2 L386.5,916.9 L385.7,913.5 L385.1,910.0 L384.7,906.4 L384.3,902.7 L384.2,899.0 L384.2,895.3 L384.3,891.5 L384.6,887.7 L385.1,883.9 L385.7,880.1 L386.4,876.4 L387.3,872.6 L388.4,868.9 L389.6,865.2 L390.9,861.6 L392.4,858.0 L394.0,854.5 L395.7,851.1 L397.5,847.8 Z" stroke="#fff" stroke-width="5.6"/>
<path d="M749.9,396.7 L479.6,916.7" stroke="#000" stroke-width="1.3"/>
<path d="M697.5,348.1 L698.9,345.8 L700.4,343.6 L701.9,341.5 L703.5,339.5 L705.1,337.5 L706.9,335.7 L708.6,334.0 L710.5,332.3 L712.3,330.8 L714.2,329.4 L716.2,328.2 L718.1,327.0 L720.1,326.0 L722.2,325.1 L724.2,324.4 L726.2,323.7 L728.3,323.2 L730.3,322.9 L732.3,322.7 L734.3,322.6 L736.3,322.7 L738.3,322.9 L740.3,323.2 L742.2,323.7 L744.0,324.3 L745.9,325.0 L747.7,325.9 L749.4,326.9 L751.1,328.0 L752.7,329.3 L754.2,330.7 L755.7,332.2 L757.1,333.8 L758.4,335.5 L759.6,337.3 L760.8,339.2 L761.8,341.3 L762.8,343.4 L763.7,345.6 L764.5,347.8 L765.2,350.2 L765.8,352.6 L766.2,355.0 L766.6,357.5 L766.9,360.1 L767.1,362.7 L767.2,365.3 L767.1,368.0 L767.0,370.7 L766.7,373.4 L766.4,376.1 L766.0,378.8 L765.4,381.5 L764.8,384.1 L764.0,386.8 L763.2,389.4 L762.2,392.0 L761.2,394.5 L760.1,397.0 L758.9,399.4 L488.6,919.5 L486.7,922.8 L484.8,926.0 L482.8,929.1 L480.6,932.1 L478.4,935.0 L476.0,937.7 L473.6,940.3 L471.1,942.7 L468.5,945.0 L465.9,947.1 L463.2,949.0 L460.5,950.7 L457.7,952.3 L454.8,953.7 L452.0,954.9 L449.1,955.9 L446.3,956.6 L443.4,957.2 L440.5,957.6 L437.7,957.8 L434.8,957.8 L432.0,957.6 L429.3,957.2 L426.6,956.6 L423.9,955.8 L421.3,954.7 L418.8,953.5 L416.4,952.1 L414.0,950.6 L411.7,948.8 L409.6,946.8 L407.5,944.7 L405.5,942.4 L403.7,940.0 L402.0,937.4 L400.4,934.7 L398.9,931.8 L397.6,928.8 L396.4,925.7 L395.3,922.4 L394.4,919.1 L393.6,915.7 L393.0,912.2 L392.6,908.6 L392.2,904.9 L392.1,901.2 L392.1,897.5 L392.2,893.7 L392.5,889.9 L393.0,886.1 L393.6,882.3 L394.3,878.6 L395.2,874.8 L396.3,871.1 L397.5,867.4 L398.8,863.8 L400.3,860.2 L401.9,856.7 L403.6,853.3 L405.4,850.0 Z" stroke="#000" stroke-width="10.0"/>
<path d="M697.5,348.1 L698.9,345.8 L700.4,343.6 L701.9,341.5 L703.5,339.5 L705.1,337.5 L706.9,335.7 L708.6,334.0 L710.5,332.3 L712.3,330.8 L714.2,329.4 L716.2,328.2 L718.1,327.0 L720.1,326.0 L722.2,325.1 L724.2,324.4 L726.2,323.7 L728.3,323.2 L730.3,322.9 L732.3,322.7 L734.3,322.6 L736.3,322.7 L738.3,322.9 L740.3,323.2 L742.2,323.7 L744.0,324.3 L745.9,325.0 L747.7,325.9 L749.4,326.9 L751.1,328.0 L752.7,329.3 L754.2,330.7 L755.7,332.2 L757.1,333.8 L758.4,335.5 L759.6,337.3 L760.8,339.2 L761.8,341.3 L762.8,343.4 L763.7,345.6 L764.5,347.8 L765.2,350.2 L765.8,352.6 L766.2,355.0 L766.6,357.5 L766.9,360.1 L767.1,362.7 L767.2,365.3 L767.1,368.0 L767.0,370.7 L766.7,373.4 L766.4,376.1 L766.0,378.8 L765.4,381.5 L764.8,384.1 L764.0,386.8 L763.2,389.4 L762.2,392.0 L761.2,394.5 L760.1,397.0 L758.9,399.4 L488.6,919.5 L486.7,922.8 L484.8,926.0 L482.8,929.1 L480.6,932.1 L478.4,935.0 L476.0,937.7 L473.6,940.3 L471.1,942.7 L468.5,945.0 L465.9,947.1 L463.2,949.0 L460.5,950.7 L457.7,952.3 L454.8,953.7 L452.0,954.9 L449.1,955.9 L446.3,956.6 L443.4,957.2 L440.5,957.6 L437.7,957.8 L434.8,957.8 L432.0,957.6 L429.3,957.2 L426.6,956.6 L423.9,955.8 L421.3,954.7 L418.8,953.5 L416.4,952.1 L414.0,950.6 L411.7,948.8 L409.6,946.8 L407.5,944.7 L405.5,942.4 L403.7,940.0 L402.0,937.4 L400.4,934.7 L398.9,931.8 L397.6,928.8 L396.4,925.7 L395.3,922.4 L394.4,919.1 L393.6,915.7 L393.0,912.2 L392.6,908.6 L392.2,904.9 L392.1,901.2 L392.1,897.5 L392.2,893.7 L392.5,889.9 L393.0,886.1 L393.6,882.3 L394.3,878.6 L395.2,874.8 L396.3,871.1 L397.5,867.4 L398.8,863.8 L400.3,860.2 L401.9,856.7 L403.6,853.3 L405.4,850.0 Z" stroke="#fff" stroke-width="5.6"/>
<path d="M757.8,398.9 L487.5,918.9" stroke="#000" stroke-width="1.3"/>
<path d="M705.4,350.3 L706.8,348.0 L708.3,345.8 L709.8,343.7 L711.4,341.7 L713.0,339.7 L714.8,337.9 L716.5,336.2 L718.4,334.5 L720.2,333.0 L722.1,331.6 L724.1,330.4 L726.0,329.2 L728.0,328.2 L730.1,327.3 L732.1,326.6 L734.1,325.9 L736.2,325.4 L738.2,325.1 L740.2,324.9 L742.2,324.8 L744.2,324.9 L746.2,325.1 L748.2,325.4 L750.1,325.9 L751.9,326.5 L753.8,327.2 L755.6,328.1 L757.3,329.1 L759.0,330.2 L760.6,331.5 L762.1,332.9 L763.6,334.4 L765.0,336.0 L766.3,337.7 L767.5,339.5 L768.7,341.4 L769.7,343.5 L770.7,345.6 L771.6,347.8 L772.4,350.0 L773.1,352.4 L773.7,354.8 L774.1,357.2 L774.5,359.7 L774.8,362.3 L775.0,364.9 L775.1,367.5 L775.0,370.2 L774.9,372.9 L774.6,375.6 L774.3,378.3 L773.9,381.0 L773.3,383.7 L772.7,386.3 L771.9,389.0 L771.1,391.6 L770.1,394.2 L769.1,396.7 L768.0,399.2 L766.8,401.6 L496.5,921.7 L494.6,925.0 L492.7,928.2 L490.7,931.3 L488.5,934.3 L486.3,937.2 L483.9,939.9 L481.5,942.5 L479.0,944.9 L476.4,947.2 L473.8,949.3 L471.1,951.2 L468.4,952.9 L465.6,954.5 L462.7,955.9 L459.9,957.1 L457.0,958.1 L454.2,958.8 L451.3,959.4 L448.4,959.8 L445.6,960.0 L442.7,960.0 L439.9,959.8 L437.2,959.4 L434.5,958.8 L431.8,958.0 L429.2,956.9 L426.7,955.7 L424.3,954.3 L421.9,952.8 L419.6,951.0 L417.5,949.0 L415.4,946.9 L413.4,944.6 L411.6,942.2 L409.9,939.6 L408.3,936.9 L406.8,934.0 L405.5,931.0 L404.3,927.9 L403.2,924.6 L402.3,921.3 L401.5,917.9 L400.9,914.4 L400.5,910.8 L400.1,907.1 L400.0,903.4 L400.0,899.7 L400.1,895.9 L400.4,892.1 L400.9,888.3 L401.5,884.5 L402.2,880.8 L403.1,877.0 L404.2,873.3 L405.4,869.6 L406.7,866.0 L408.2,862.4 L409.8,858.9 L411.5,855.5 L413.3,852.2 Z" stroke="#000" stroke-width="10.0"/>
<path d="M705.4,350.3 L706.8,348.0 L708.3,345.8 L709.8,343.7 L711.4,341.7 L713.0,339.7 L714.8,337.9 L716.5,336.2 L718.4,334.5 L720.2,333.0 L722.1,331.6 L724.1,330.4 L726.0,329.2 L728.0,328.2 L730.1,327.3 L732.1,326.6 L734.1,325.9 L736.2,325.4 L738.2,325.1 L740.2,324.9 L742.2,324.8 L744.2,324.9 L746.2,325.1 L748.2,325.4 L750.1,325.9 L751.9,326.5 L753.8,327.2 L755.6,328.1 L757.3,329.1 L759.0,330.2 L760.6,331.5 L762.1,332.9 L763.6,334.4 L765.0,336.0 L766.3,337.7 L767.5,339.5 L768.7,341.4 L769.7,343.5 L770.7,345.6 L771.6,347.8 L772.4,350.0 L773.1,352.4 L773.7,354.8 L774.1,357.2 L774.5,359.7 L774.8,362.3 L775.0,364.9 L775.1,367.5 L775.0,370.2 L774.9,372.9 L774.6,375.6 L774.3,378.3 L773.9,381.0 L773.3,383.7 L772.7,386.3 L771.9,389.0 L771.1,391.6 L770.1,394.2 L769.1,396.7 L768.0,399.2 L766.8,401.6 L496.5,921.7 L494.6,925.0 L492.7,928.2 L490.7,931.3 L488.5,934.3 L486.3,937.2 L483.9,939.9 L481.5,942.5 L479.0,944.9 L476.4,947.2 L473.8,949.3 L471.1,951.2 L468.4,952.9 L465.6,954.5 L462.7,955.9 L459.9,957.1 L457.0,958.1 L454.2,958.8 L451.3,959.4 L448.4,959.8 L445.6,960.0 L442.7,960.0 L439.9,959.8 L437.2,959.4 L434.5,958.8 L431.8,958.0 L429.2,956.9 L426.7,955.7 L424.3,954.3 L421.9,952.8 L419.6,951.0 L417.5,949.0 L415.4,946.9 L413.4,944.6 L411.6,942.2 L409.9,939.6 L408.3,936.9 L406.8,934.0 L405.5,931.0 L404.3,927.9 L403.2,924.6 L402.3,921.3 L401.5,917.9 L400.9,914.4 L400.5,910.8 L400.1,907.1 L400.0,903.4 L400.0,899.7 L400.1,895.9 L400.4,892.1 L400.9,888.3 L401.5,884.5 L402.2,880.8 L403.1,877.0 L404.2,873.3 L405.4,869.6 L406.7,866.0 L408.2,862.4 L409.8,858.9 L411.5,855.5 L413.3,852.2 Z" stroke="#fff" stroke-width="5.6"/>
<path d="M765.7,401.1 L495.4,921.1" stroke="#000" stroke-width="1.3"/>
<path d="M713.3,352.5 L714.7,350.2 L716.2,348.0 L717.7,345.9 L719.3,343.9 L720.9,341.9 L722.7,340.1 L724.4,338.4 L726.3,336.7 L728.1,335.2 L730.0,333.8 L732.0,332.6 L733.9,331.4 L735.9,330.4 L738.0,329.5 L740.0,328.8 L742.0,328.1 L744.1,327.6 L746.1,327.3 L748.1,327.1 L750.1,327.0 L752.1,327.1 L754.1,327.3 L756.1,327.6 L758.0,328.1 L759.8,328.7 L761.7,329.4 L763.5,330.3 L765.2,331.3 L766.9,332.4 L768.5,333.7 L770.0,335.1 L771.5,336.6 L772.9,338.2 L774.2,339.9 L775.4,341.7 L776.6,343.6 L777.6,345.7 L778.6,347.8 L779.5,350.0 L780.3,352.2 L781.0,354.6 L781.6,357.0 L782.0,359.4 L782.4,361.9 L782.7,364.5 L782.9,367.1 L783.0,369.7 L782.9,372.4 L782.8,375.1 L782.5,377.8 L782.2,380.5 L781.8,383.2 L781.2,385.9 L780.6,388.5 L779.8,391.2 L779.0,393.8 L778.0,396.4 L777.0,398.9 L775.9,401.4 L774.7,403.8 L504.4,923.9 L502.5,927.2 L500.6,930.4 L498.6,933.5 L496.4,936.5 L494.2,939.4 L491.8,942.1 L489.4,944.7 L486.9,947.1 L484.3,949.4 L481.7,951.5 L479.0,953.4 L476.3,955.1 L473.5,956.7 L470.6,958.1 L467.8,959.3 L464.9,960.3 L462.1,961.0 L459.2,961.6 L456.3,962.0 L453.5,962.2 L450.6,962.2 L447.8,962.0 L445.1,961.6 L442.4,961.0 L439.7,960.2 L437.1,959.1 L434.6,957.9 L432.2,956.5 L429.8,955.0 L427.5,953.2 L425.4,951.2 L423.3,949.1 L421.3,946.8 L419.5,944.4 L417.8,941.8 L416.2,939.1 L414.7,936.2 L413.4,933.2 L412.2,930.1 L411.1,926.8 L410.2,923.5 L409.4,920.1 L408.8,916.6 L408.4,913.0 L408.0,909.3 L407.9,905.6 L407.9,901.9 L408.0,898.1 L408.3,894.3 L408.8,890.5 L409.4,886.7 L410.1,883.0 L411.0,879.2 L412.1,875.5 L413.3,871.8 L414.6,868.2 L416.1,864.6 L417.7,861.1 L419.4,857.7 L421.2,854.4 Z" stroke="#000" stroke-width="10.0"/>
<path d="M713.3,352.5 L714.7,350.2 L716.2,348.0 L717.7,345.9 L719.3,343.9 L720.9,341.9 L722.7,340.1 L724.4,338.4 L726.3,336.7 L728.1,335.2 L730.0,333.8 L732.0,332.6 L733.9,331.4 L735.9,330.4 L738.0,329.5 L740.0,328.8 L742.0,328.1 L744.1,327.6 L746.1,327.3 L748.1,327.1 L750.1,327.0 L752.1,327.1 L754.1,327.3 L756.1,327.6 L758.0,328.1 L759.8,328.7 L761.7,329.4 L763.5,330.3 L765.2,331.3 L766.9,332.4 L768.5,333.7 L770.0,335.1 L771.5,336.6 L772.9,338.2 L774.2,339.9 L775.4,341.7 L776.6,343.6 L777.6,345.7 L778.6,347.8 L779.5,350.0 L780.3,352.2 L781.0,354.6 L781.6,357.0 L782.0,359.4 L782.4,361.9 L782.7,364.5 L782.9,367.1 L783.0,369.7 L782.9,372.4 L782.8,375.1 L782.5,377.8 L782.2,380.5 L781.8,383.2 L781.2,385.9 L780.6,388.5 L779.8,391.2 L779.0,393.8 L778.0,396.4 L777.0,398.9 L775.9,401.4 L774.7,403.8 L504.4,923.9 L502.5,927.2 L500.6,930.4 L498.6,933.5 L496.4,936.5 L494.2,939.4 L491.8,942.1 L489.4,944.7 L486.9,947.1 L484.3,949.4 L481.7,951.5 L479.0,953.4 L476.3,955.1 L473.5,956.7 L470.6,958.1 L467.8,959.3 L464.9,960.3 L462.1,961.0 L459.2,961.6 L456.3,962.0 L453.5,962.2 L450.6,962.2 L447.8,962.0 L445.1,961.6 L442.4,961.0 L439.7,960.2 L437.1,959.1 L434.6,957.9 L432.2,956.5 L429.8,955.0 L427.5,953.2 L425.4,951.2 L423.3,949.1 L421.3,946.8 L419.5,944.4 L417.8,941.8 L416.2,939.1 L414.7,936.2 L413.4,933.2 L412.2,930.1 L411.1,926.8 L410.2,923.5 L409.4,920.1 L408.8,916.6 L408.4,913.0 L408.0,909.3 L407.9,905.6 L407.9,901.9 L408.0,898.1 L408.3,894.3 L408.8,890.5 L409.4,886.7 L410.1,883.0 L411.0,879.2 L412.1,875.5 L413.3,871.8 L414.6,868.2 L416.1,864.6 L417.7,861.1 L419.4,857.7 L421.2,854.4 Z" stroke="#fff" stroke-width="5.6"/>
<path d="M773.6,403.3 L503.3,923.3" stroke="#000" stroke-width="1.3"/>
</g>
<path d="M629.2,368 C629.0,342 641,307 676,306.6 C690,306.6 700,309 712,313 L750,326" fill="none" stroke="#000" stroke-width="2.2"/>
<path d="M648.2,335.4 L712.6,353.2 M706,389.7 L767.6,404.6 M355.4,834 L417.4,850" fill="none" stroke="#000" stroke-width="1.1"/>
<path d="M413.9,849.6 L415.6,846.8 L417.4,844.1 L419.3,841.4 L421.3,838.9 L423.3,836.5 L425.4,834.1 L427.6,831.9 L429.8,829.8 L432.1,827.8 L434.5,825.9 L436.8,824.1 L439.3,822.5 L441.7,821.0 L444.2,819.6 L446.7,818.3 L449.2,817.2 L451.8,816.2 L454.3,815.4 L456.9,814.7 L459.5,814.2 L462.0,813.8 L464.6,813.5 L467.1,813.4 L469.7,813.4 L472.2,813.6 L474.6,813.9 L477.1,814.4 L479.5,815.0 L481.9,815.8 L484.2,816.7 L486.5,817.7 L488.7,818.9 L490.8,820.2 L492.9,821.6 L495.0,823.2 L496.9,824.9 L498.8,826.7 L500.6,828.7 L502.4,830.7 L504.0,832.9" fill="none" stroke="#000" stroke-width="2.0"/>
<ellipse cx="461.0" cy="893.0" rx="57.0" ry="78.0" transform="rotate(16 461 893)" fill="#fff" stroke="#000" stroke-width="2.6"/>
<ellipse cx="460.5" cy="893.0" rx="46.5" ry="64.0" transform="rotate(16 460.5 893)" fill="none" stroke="#000" stroke-width="2.2"/>
<ellipse cx="455.0" cy="891.0" rx="37.0" ry="55.0" transform="rotate(16 455 891)" fill="none" stroke="#000" stroke-width="1.2"/>
<path d="M488.1,848.2 L489.3,850.2 L490.5,852.4 L491.6,854.6 L492.6,856.9 L493.5,859.4 L494.3,861.9 L494.9,864.5 L495.5,867.1 L496.0,869.9 L496.3,872.7 L496.5,875.5 L496.6,878.4 L496.6,881.3 L496.5,884.3 L496.3,887.2 L495.9,890.2 L495.5,893.2 L494.9,896.1 L494.2,899.1 L493.5,902.0 L492.6,904.9 L491.6,907.8 L490.5,910.6 L489.3,913.4 L488.0,916.1 L486.6,918.7 L485.2,921.3 L483.6,923.7 L482.0,926.1 L480.3,928.4 L478.5,930.6 L476.7,932.7 L474.8,934.7 L472.9,936.5 L470.9,938.2 L468.8,939.8 L466.8,941.3 L464.7,942.6 L462.5,943.8 L460.4,944.8" fill="none" stroke="#000" stroke-width="1.3" stroke-dasharray="8 4"/>
<ellipse cx="450.0" cy="890.6" rx="22.5" ry="38.0" transform="rotate(14 450 890.6)" fill="none" stroke="#000" stroke-width="2.0"/>
<ellipse cx="439.0" cy="888.0" rx="16.5" ry="27.0" transform="rotate(10 439 888)" fill="none" stroke="#000" stroke-width="2.4"/>
<path d="M436,862 L439,857 L444,858 L444,862 M437,914 L438,924 M443,914 L444,924" stroke="#000" stroke-width="1.8" fill="none"/>
<path d="M421,889 Q418,896 422,903" stroke="#000" stroke-width="1.6" fill="none"/>
<ellipse cx="462.0" cy="845.0" rx="6.8" ry="8.4" transform="rotate(14 462 845)" fill="#fff" stroke="#000" stroke-width="2.4"/>
<ellipse cx="463.5" cy="845.0" rx="3.6" ry="5.0" transform="rotate(14 463.5 845)" fill="#fff" stroke="#000" stroke-width="1.6"/>
<ellipse cx="462.0" cy="923.8" rx="6.8" ry="8.4" transform="rotate(14 462 923.8)" fill="#fff" stroke="#000" stroke-width="2.4"/>
<ellipse cx="463.5" cy="923.8" rx="3.6" ry="5.0" transform="rotate(14 463.5 923.8)" fill="#fff" stroke="#000" stroke-width="1.6"/>
<ellipse cx="475.4" cy="880.1" rx="2.4" ry="3.4" transform="rotate(12 475.4 880.1)" fill="#fff" stroke="#000" stroke-width="1.6"/>
<ellipse cx="425.3" cy="931.7" rx="2.4" ry="3.4" transform="rotate(12 425.3 931.7)" fill="#fff" stroke="#000" stroke-width="1.6"/>
<path d="M691.2,253.8 A30.5,30.5 0 0 0 645.9,255.0 L540.2,378.3 A49.5,49.5 0 0 0 584.1,459.6 L736.7,440.0 A60.0,60.0 0 0 0 772.4,339.0 Z M684.7,260.0 A21.5,21.5 0 0 0 652.8,260.9 L547.0,384.2 A40.5,40.5 0 0 0 582.9,450.7 L735.5,431.0 A51.0,51.0 0 0 0 765.9,345.3 Z" fill="#fff" fill-rule="evenodd" stroke="none"/>
<path d="M691.2,253.8 A30.5,30.5 0 0 0 645.9,255.0 L540.2,378.3 A49.5,49.5 0 0 0 584.1,459.6 L736.7,440.0 A60.0,60.0 0 0 0 772.4,339.0 Z" fill="none" stroke="#000" stroke-width="2.4"/>
<path d="M689.0,255.9 A27.5,27.5 0 0 0 648.2,256.9 L542.5,380.3 A46.5,46.5 0 0 0 583.7,456.6 L736.3,437.0 A57.0,57.0 0 0 0 770.3,341.1 Z" fill="none" stroke="#000" stroke-width="1.2"/>
<path d="M684.7,260.0 A21.5,21.5 0 0 0 652.8,260.9 L547.0,384.2 A40.5,40.5 0 0 0 582.9,450.7 L735.5,431.0 A51.0,51.0 0 0 0 765.9,345.3 Z" fill="none" stroke="#000" stroke-width="2.9"/>
<path d="M691.2,253.8 L684.7,260.0 M645.9,255.0 L652.8,260.9" stroke="#000" stroke-width="1.1"/>
<path d="M540.2,378.3 L547.0,384.2 M584.1,459.6 L582.9,450.7" stroke="#000" stroke-width="1.1"/>
<path d="M736.7,440.0 L735.5,431.0 M772.4,339.0 L765.9,345.3" stroke="#000" stroke-width="1.1"/>
<text x="629.8" y="66.9" font-size="43.68" fill="#000" font-weight="bold" text-anchor="start">Belt Drive Assembly #6001044</text>
<rect x="629.7" y="72" width="628.3" height="4.6" fill="#000"/>
<circle cx="797" cy="144" r="35" fill="none" stroke="#1c1ca8" stroke-width="2"/>
<text x="797.0" y="155.0" font-size="32" fill="#0d0dd4" font-weight="normal" text-anchor="middle">4</text>
<circle cx="906.5" cy="268.5" r="35" fill="none" stroke="#1c1ca8" stroke-width="2"/>
<text x="906.5" y="279.5" font-size="32" fill="#0d0dd4" font-weight="normal" text-anchor="middle">3</text>
<circle cx="334.8" cy="553.8" r="35" fill="none" stroke="#1c1ca8" stroke-width="2"/>
<text x="334.8" y="564.8" font-size="32" fill="#0d0dd4" font-weight="normal" text-anchor="middle">2</text>
<circle cx="173.4" cy="836.4" r="35" fill="none" stroke="#1c1ca8" stroke-width="2"/>
<text x="173.4" y="847.4" font-size="32" fill="#0d0dd4" font-weight="normal" text-anchor="middle">1</text>
<g stroke="#1c1ca8" stroke-width="2" fill="none">
<path d="M778.3,175.5 L722,265"/>
<path d="M889,300.5 L839,394"/>
<path d="M366.8,569.8 L450,610"/>
<path d="M208.4,843 L310,859.5"/>
<path d="M337.4,671.2 C318,682 308,694 317,704.6 C330,714 352,716 362,735 C366,744 368,752 369,760"/>
<path d="M554.2,1055.2 C566,1045 570,1030 566,1010 C556,985 525,960 495,945"/>
</g>
<path d="M716.0,276.0 L731.6,238.6 L742.6,245.4 Z" fill="#0a0af0"/>
<path d="M833.9,404.4 L846.9,366.0 L858.4,372.1 Z" fill="#0a0af0"/>
<path d="M477.5,624.0 L437.7,612.1 L443.7,599.9 Z" fill="#0a0af0"/>
<path d="M339.4,864.3 L296.8,864.5 L299.1,850.7 Z" fill="#0a0af0"/>
<path d="M372.3,784.5 L359.2,743.9 L367.4,748.8 L374.1,741.9 Z" fill="#0a0af0"/>
<path d="M472.8,933.1 L513.4,946.3 L504.5,950.1 L506.3,959.5 Z" fill="#0a0af0"/>
<text x="84.8" y="660.2" font-size="30.8" fill="#0d0dd4" font-weight="bold" text-anchor="start">For SK Bushing</text>
<text x="100.8" y="1087.0" font-size="31.1" fill="#0d0dd4" font-weight="bold" text-anchor="start">For 2012 Taper Bushing</text>
<text x="100.8" y="1182.6" font-size="31.1" fill="#0d0dd4" font-weight="bold" text-anchor="start">For 2517 Taper Bushing</text>
<path d="M327.0,650.0 L345.4,616.9 L385.4,616.9 L403.8,650.0 L385.4,683.1 L345.4,683.1 Z" fill="none" stroke="#1c1ca8" stroke-width="2"/>
<text x="365.4" y="660.2" font-size="31.5" fill="#0d0dd4" font-weight="bold" text-anchor="middle">1/8"</text>
<path d="M470.5,1076.8 L493.5,1036.2 L540.9,1036.2 L563.9,1076.8 L540.9,1117.4 L493.5,1117.4 Z" fill="none" stroke="#1c1ca8" stroke-width="2"/>
<text x="517.2" y="1087.0" font-size="31.5" fill="#0d0dd4" font-weight="bold" text-anchor="middle">7/32"</text>
<path d="M481.8,1172.5 L501.0,1139.5 L540.0,1139.5 L559.2,1172.5 L540.0,1205.5 L501.0,1205.5 Z" fill="none" stroke="#1c1ca8" stroke-width="2"/>
<text x="520.5" y="1182.6" font-size="31.5" fill="#0d0dd4" font-weight="bold" text-anchor="middle">1/4"</text>
<text x="677.5" y="677.0" font-size="30.9" fill="#0d0dd4" font-weight="bold" text-anchor="start">76-79 Hz</text>
<g transform="translate(690,600) scale(0.04845)"><path d="M115,625 L420,560 Q470,430 530,430 Q570,440 570,520 L570,700 L820,150 Q860,110 890,150 L895,620 L1000,380 Q1040,360 1080,390 L1085,750 L1400,800 L1400,820 L1040,830 Q1000,820 1000,780 L1000,580 L870,800 Q830,830 810,790 L810,340 L570,900 Q530,930 490,890 L485,620 L130,640 Z" fill="none" stroke="#1c1ca8" stroke-width="40" stroke-linejoin="round"/></g>
</svg>
</body></html>
